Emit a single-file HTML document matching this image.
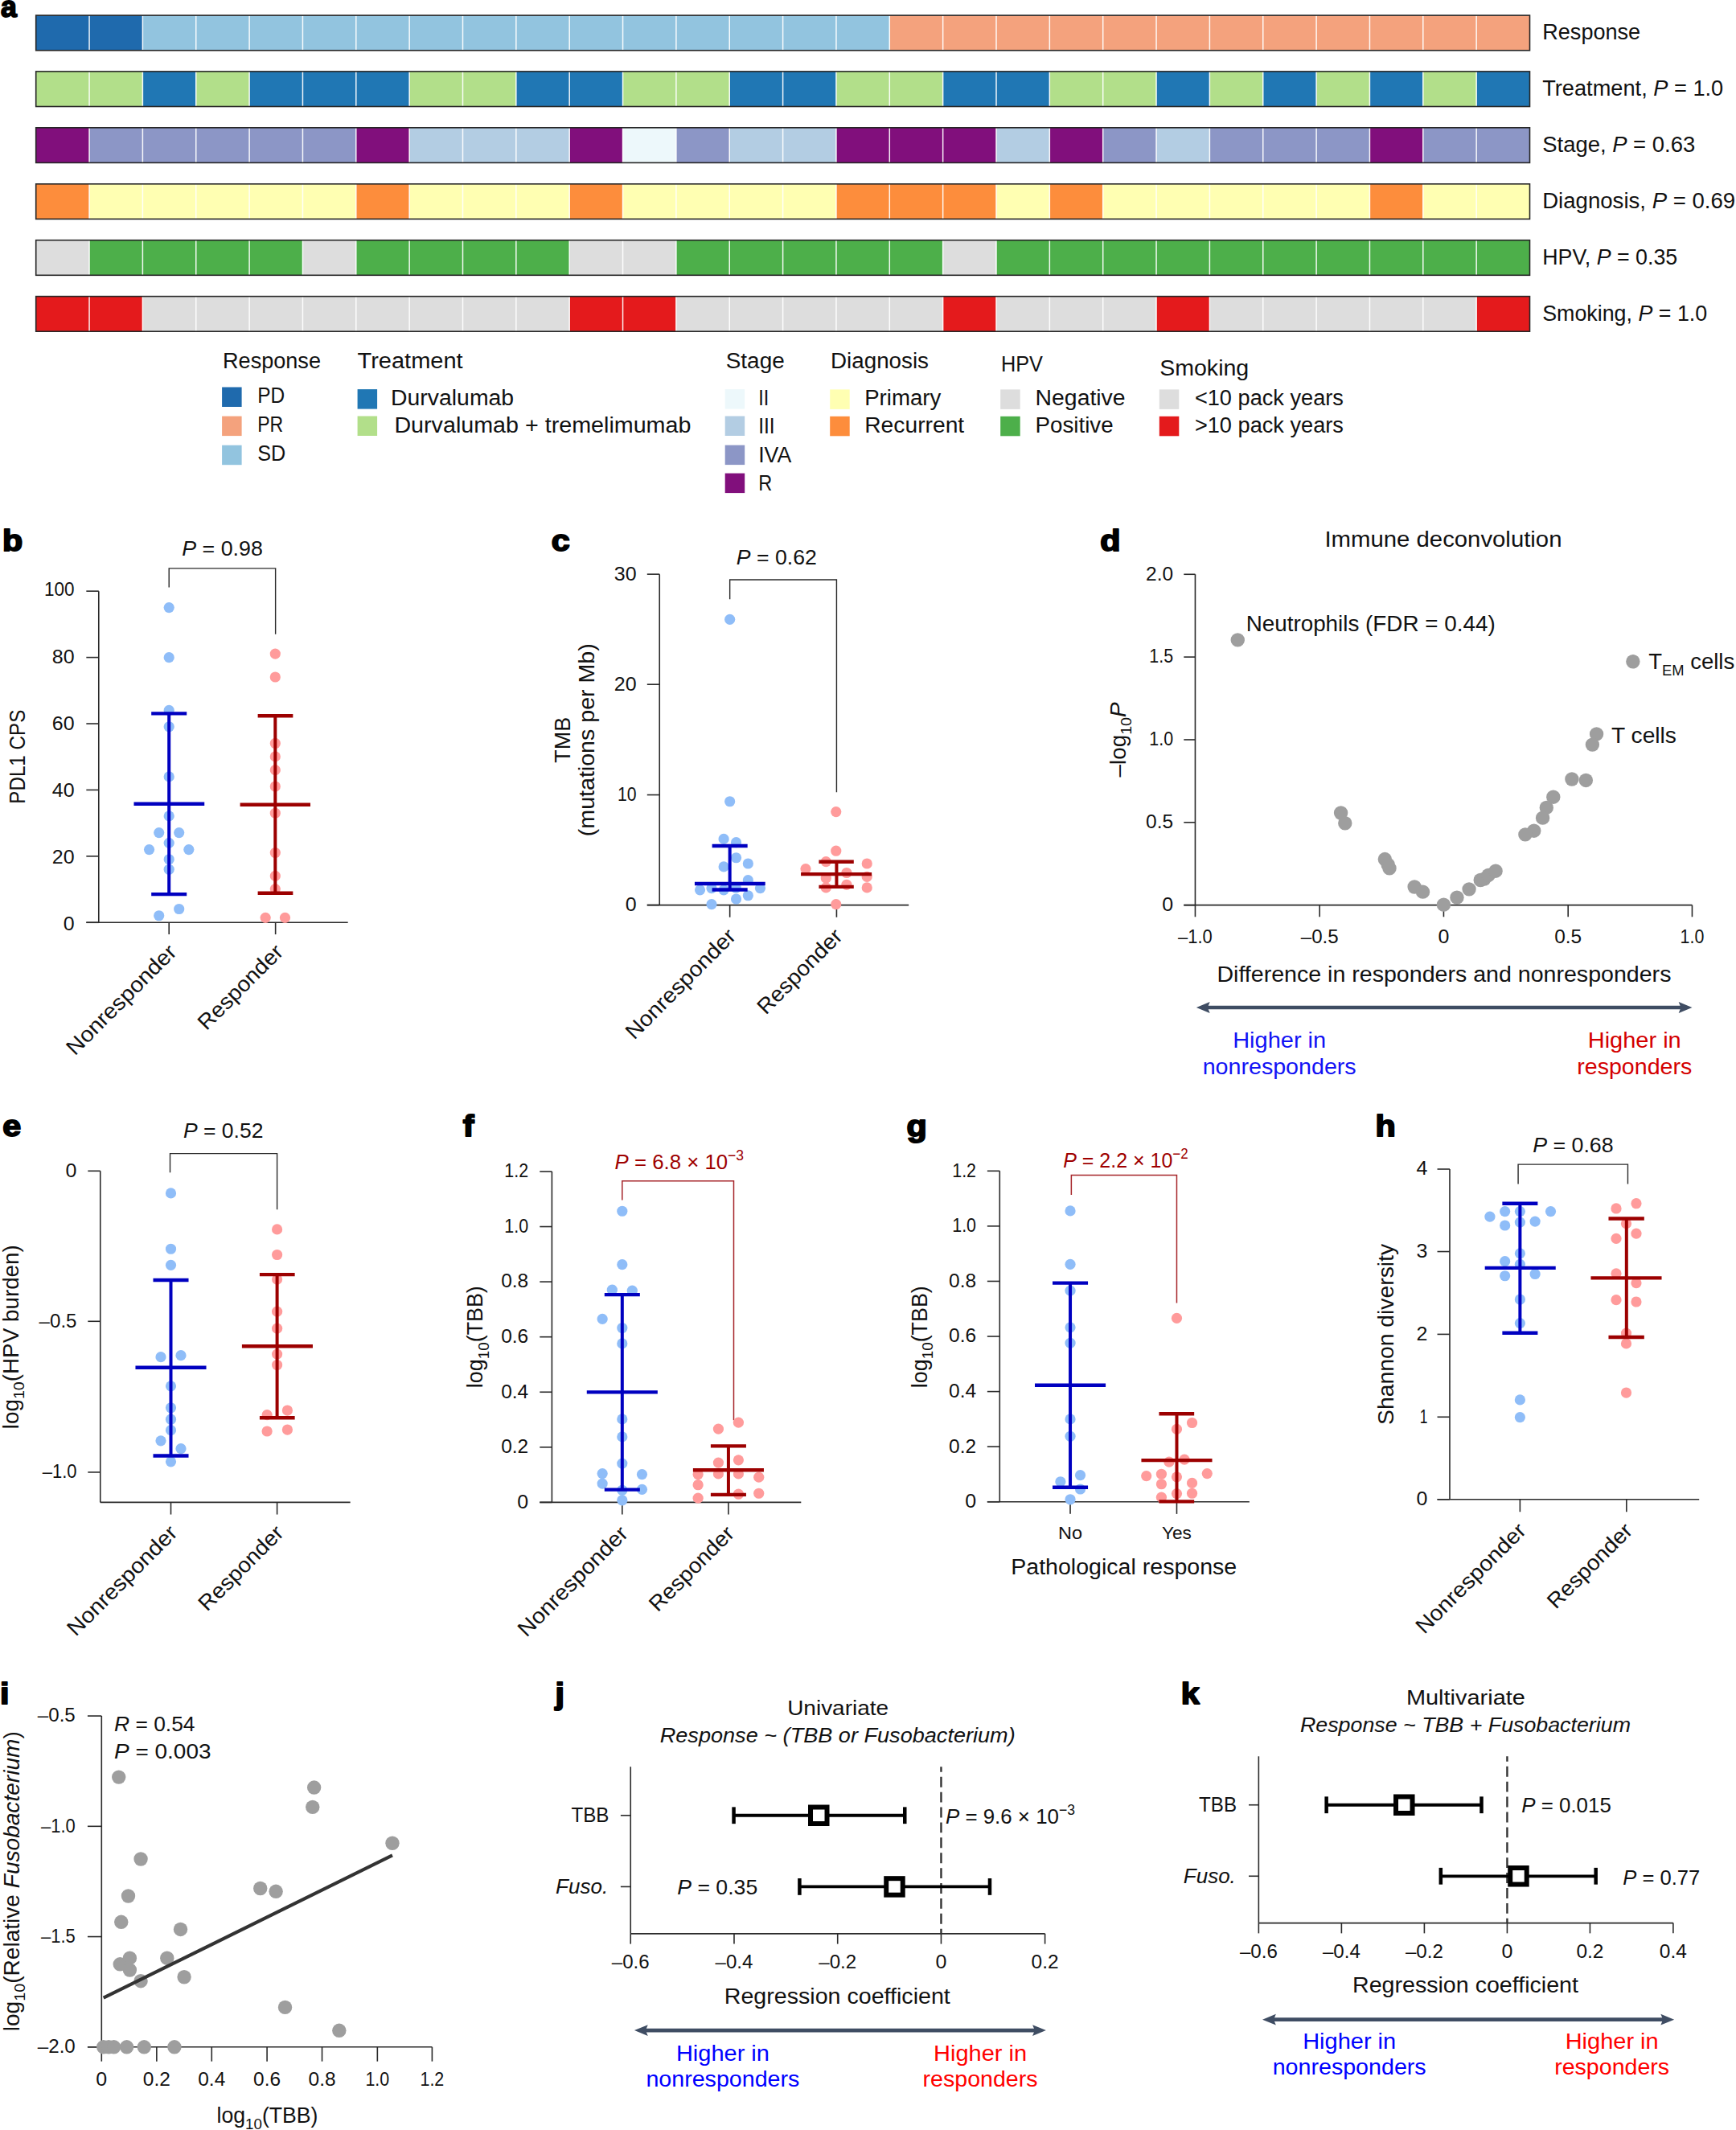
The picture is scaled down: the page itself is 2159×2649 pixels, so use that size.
<!DOCTYPE html>
<html lang="en">
<head>
<meta charset="utf-8">
<title>Figure</title>
<style>
html,body{margin:0;padding:0;background:#fff;}
body{width:2159px;height:2649px;overflow:hidden;font-family:"Liberation Sans", Arial, sans-serif;}
svg{display:block;}
svg text{white-space:pre;}
</style>
</head>
<body>
<svg width="2159" height="2649" viewBox="0 0 2159 2649" font-family='"Liberation Sans", Arial, sans-serif'>
<rect x="0" y="0" width="2159" height="2649" fill="#ffffff"/>
<g transform="translate(0.2 0.2)">
<g id="panel-a">
<text transform="translate(0.70 21.20) scale(0.95 1)" x="0" y="0" font-size="37.5" font-weight="bold" fill="#000" stroke="#000" stroke-width="1.9" stroke-linejoin="round">a</text>
<rect x="44.50" y="18.90" width="132.70" height="43.60" fill="#1f6aad"/>
<rect x="177.20" y="18.90" width="928.90" height="43.60" fill="#92c4df"/>
<rect x="1106.10" y="18.90" width="796.20" height="43.60" fill="#f4a27d"/>
<line x1="110.85" y1="18.90" x2="110.85" y2="62.50" stroke="#ffffff" stroke-width="1.5" stroke-opacity="0.92"/>
<line x1="177.20" y1="18.90" x2="177.20" y2="62.50" stroke="#ffffff" stroke-width="1.5" stroke-opacity="0.92"/>
<line x1="243.55" y1="18.90" x2="243.55" y2="62.50" stroke="#ffffff" stroke-width="1.5" stroke-opacity="0.92"/>
<line x1="309.90" y1="18.90" x2="309.90" y2="62.50" stroke="#ffffff" stroke-width="1.5" stroke-opacity="0.92"/>
<line x1="376.25" y1="18.90" x2="376.25" y2="62.50" stroke="#ffffff" stroke-width="1.5" stroke-opacity="0.92"/>
<line x1="442.60" y1="18.90" x2="442.60" y2="62.50" stroke="#ffffff" stroke-width="1.5" stroke-opacity="0.92"/>
<line x1="508.95" y1="18.90" x2="508.95" y2="62.50" stroke="#ffffff" stroke-width="1.5" stroke-opacity="0.92"/>
<line x1="575.30" y1="18.90" x2="575.30" y2="62.50" stroke="#ffffff" stroke-width="1.5" stroke-opacity="0.92"/>
<line x1="641.65" y1="18.90" x2="641.65" y2="62.50" stroke="#ffffff" stroke-width="1.5" stroke-opacity="0.92"/>
<line x1="708.00" y1="18.90" x2="708.00" y2="62.50" stroke="#ffffff" stroke-width="1.5" stroke-opacity="0.92"/>
<line x1="774.35" y1="18.90" x2="774.35" y2="62.50" stroke="#ffffff" stroke-width="1.5" stroke-opacity="0.92"/>
<line x1="840.70" y1="18.90" x2="840.70" y2="62.50" stroke="#ffffff" stroke-width="1.5" stroke-opacity="0.92"/>
<line x1="907.05" y1="18.90" x2="907.05" y2="62.50" stroke="#ffffff" stroke-width="1.5" stroke-opacity="0.92"/>
<line x1="973.40" y1="18.90" x2="973.40" y2="62.50" stroke="#ffffff" stroke-width="1.5" stroke-opacity="0.92"/>
<line x1="1039.75" y1="18.90" x2="1039.75" y2="62.50" stroke="#ffffff" stroke-width="1.5" stroke-opacity="0.92"/>
<line x1="1106.10" y1="18.90" x2="1106.10" y2="62.50" stroke="#ffffff" stroke-width="1.5" stroke-opacity="0.92"/>
<line x1="1172.45" y1="18.90" x2="1172.45" y2="62.50" stroke="#ffffff" stroke-width="1.5" stroke-opacity="0.92"/>
<line x1="1238.80" y1="18.90" x2="1238.80" y2="62.50" stroke="#ffffff" stroke-width="1.5" stroke-opacity="0.92"/>
<line x1="1305.15" y1="18.90" x2="1305.15" y2="62.50" stroke="#ffffff" stroke-width="1.5" stroke-opacity="0.92"/>
<line x1="1371.50" y1="18.90" x2="1371.50" y2="62.50" stroke="#ffffff" stroke-width="1.5" stroke-opacity="0.92"/>
<line x1="1437.85" y1="18.90" x2="1437.85" y2="62.50" stroke="#ffffff" stroke-width="1.5" stroke-opacity="0.92"/>
<line x1="1504.20" y1="18.90" x2="1504.20" y2="62.50" stroke="#ffffff" stroke-width="1.5" stroke-opacity="0.92"/>
<line x1="1570.55" y1="18.90" x2="1570.55" y2="62.50" stroke="#ffffff" stroke-width="1.5" stroke-opacity="0.92"/>
<line x1="1636.90" y1="18.90" x2="1636.90" y2="62.50" stroke="#ffffff" stroke-width="1.5" stroke-opacity="0.92"/>
<line x1="1703.25" y1="18.90" x2="1703.25" y2="62.50" stroke="#ffffff" stroke-width="1.5" stroke-opacity="0.92"/>
<line x1="1769.60" y1="18.90" x2="1769.60" y2="62.50" stroke="#ffffff" stroke-width="1.5" stroke-opacity="0.92"/>
<line x1="1835.95" y1="18.90" x2="1835.95" y2="62.50" stroke="#ffffff" stroke-width="1.5" stroke-opacity="0.92"/>
<rect x="44.50" y="18.90" width="1857.80" height="43.60" fill="none" stroke="#262626" stroke-width="1.6"/>
<text x="1918.00" y="49.30" font-size="27" text-anchor="start" fill="#111" textLength="122.0" lengthAdjust="spacingAndGlyphs">Response</text>
<rect x="44.50" y="88.70" width="132.70" height="43.60" fill="#b2df8a"/>
<rect x="177.20" y="88.70" width="66.35" height="43.60" fill="#2077b4"/>
<rect x="243.55" y="88.70" width="66.35" height="43.60" fill="#b2df8a"/>
<rect x="309.90" y="88.70" width="199.05" height="43.60" fill="#2077b4"/>
<rect x="508.95" y="88.70" width="132.70" height="43.60" fill="#b2df8a"/>
<rect x="641.65" y="88.70" width="132.70" height="43.60" fill="#2077b4"/>
<rect x="774.35" y="88.70" width="132.70" height="43.60" fill="#b2df8a"/>
<rect x="907.05" y="88.70" width="132.70" height="43.60" fill="#2077b4"/>
<rect x="1039.75" y="88.70" width="132.70" height="43.60" fill="#b2df8a"/>
<rect x="1172.45" y="88.70" width="132.70" height="43.60" fill="#2077b4"/>
<rect x="1305.15" y="88.70" width="132.70" height="43.60" fill="#b2df8a"/>
<rect x="1437.85" y="88.70" width="66.35" height="43.60" fill="#2077b4"/>
<rect x="1504.20" y="88.70" width="66.35" height="43.60" fill="#b2df8a"/>
<rect x="1570.55" y="88.70" width="66.35" height="43.60" fill="#2077b4"/>
<rect x="1636.90" y="88.70" width="66.35" height="43.60" fill="#b2df8a"/>
<rect x="1703.25" y="88.70" width="66.35" height="43.60" fill="#2077b4"/>
<rect x="1769.60" y="88.70" width="66.35" height="43.60" fill="#b2df8a"/>
<rect x="1835.95" y="88.70" width="66.35" height="43.60" fill="#2077b4"/>
<line x1="110.85" y1="88.70" x2="110.85" y2="132.30" stroke="#ffffff" stroke-width="1.5" stroke-opacity="0.92"/>
<line x1="177.20" y1="88.70" x2="177.20" y2="132.30" stroke="#ffffff" stroke-width="1.5" stroke-opacity="0.92"/>
<line x1="243.55" y1="88.70" x2="243.55" y2="132.30" stroke="#ffffff" stroke-width="1.5" stroke-opacity="0.92"/>
<line x1="309.90" y1="88.70" x2="309.90" y2="132.30" stroke="#ffffff" stroke-width="1.5" stroke-opacity="0.92"/>
<line x1="376.25" y1="88.70" x2="376.25" y2="132.30" stroke="#ffffff" stroke-width="1.5" stroke-opacity="0.92"/>
<line x1="442.60" y1="88.70" x2="442.60" y2="132.30" stroke="#ffffff" stroke-width="1.5" stroke-opacity="0.92"/>
<line x1="508.95" y1="88.70" x2="508.95" y2="132.30" stroke="#ffffff" stroke-width="1.5" stroke-opacity="0.92"/>
<line x1="575.30" y1="88.70" x2="575.30" y2="132.30" stroke="#ffffff" stroke-width="1.5" stroke-opacity="0.92"/>
<line x1="641.65" y1="88.70" x2="641.65" y2="132.30" stroke="#ffffff" stroke-width="1.5" stroke-opacity="0.92"/>
<line x1="708.00" y1="88.70" x2="708.00" y2="132.30" stroke="#ffffff" stroke-width="1.5" stroke-opacity="0.92"/>
<line x1="774.35" y1="88.70" x2="774.35" y2="132.30" stroke="#ffffff" stroke-width="1.5" stroke-opacity="0.92"/>
<line x1="840.70" y1="88.70" x2="840.70" y2="132.30" stroke="#ffffff" stroke-width="1.5" stroke-opacity="0.92"/>
<line x1="907.05" y1="88.70" x2="907.05" y2="132.30" stroke="#ffffff" stroke-width="1.5" stroke-opacity="0.92"/>
<line x1="973.40" y1="88.70" x2="973.40" y2="132.30" stroke="#ffffff" stroke-width="1.5" stroke-opacity="0.92"/>
<line x1="1039.75" y1="88.70" x2="1039.75" y2="132.30" stroke="#ffffff" stroke-width="1.5" stroke-opacity="0.92"/>
<line x1="1106.10" y1="88.70" x2="1106.10" y2="132.30" stroke="#ffffff" stroke-width="1.5" stroke-opacity="0.92"/>
<line x1="1172.45" y1="88.70" x2="1172.45" y2="132.30" stroke="#ffffff" stroke-width="1.5" stroke-opacity="0.92"/>
<line x1="1238.80" y1="88.70" x2="1238.80" y2="132.30" stroke="#ffffff" stroke-width="1.5" stroke-opacity="0.92"/>
<line x1="1305.15" y1="88.70" x2="1305.15" y2="132.30" stroke="#ffffff" stroke-width="1.5" stroke-opacity="0.92"/>
<line x1="1371.50" y1="88.70" x2="1371.50" y2="132.30" stroke="#ffffff" stroke-width="1.5" stroke-opacity="0.92"/>
<line x1="1437.85" y1="88.70" x2="1437.85" y2="132.30" stroke="#ffffff" stroke-width="1.5" stroke-opacity="0.92"/>
<line x1="1504.20" y1="88.70" x2="1504.20" y2="132.30" stroke="#ffffff" stroke-width="1.5" stroke-opacity="0.92"/>
<line x1="1570.55" y1="88.70" x2="1570.55" y2="132.30" stroke="#ffffff" stroke-width="1.5" stroke-opacity="0.92"/>
<line x1="1636.90" y1="88.70" x2="1636.90" y2="132.30" stroke="#ffffff" stroke-width="1.5" stroke-opacity="0.92"/>
<line x1="1703.25" y1="88.70" x2="1703.25" y2="132.30" stroke="#ffffff" stroke-width="1.5" stroke-opacity="0.92"/>
<line x1="1769.60" y1="88.70" x2="1769.60" y2="132.30" stroke="#ffffff" stroke-width="1.5" stroke-opacity="0.92"/>
<line x1="1835.95" y1="88.70" x2="1835.95" y2="132.30" stroke="#ffffff" stroke-width="1.5" stroke-opacity="0.92"/>
<rect x="44.50" y="88.70" width="1857.80" height="43.60" fill="none" stroke="#262626" stroke-width="1.6"/>
<text x="1918.00" y="119.10" font-size="27" text-anchor="start" fill="#111" textLength="225.0" lengthAdjust="spacingAndGlyphs">Treatment, <tspan font-style="italic">P</tspan> = 1.0</text>
<rect x="44.50" y="158.60" width="66.35" height="43.60" fill="#810f7c"/>
<rect x="110.85" y="158.60" width="331.75" height="43.60" fill="#8c96c6"/>
<rect x="442.60" y="158.60" width="66.35" height="43.60" fill="#810f7c"/>
<rect x="508.95" y="158.60" width="199.05" height="43.60" fill="#b3cde3"/>
<rect x="708.00" y="158.60" width="66.35" height="43.60" fill="#810f7c"/>
<rect x="774.35" y="158.60" width="66.35" height="43.60" fill="#edf8fb"/>
<rect x="840.70" y="158.60" width="66.35" height="43.60" fill="#8c96c6"/>
<rect x="907.05" y="158.60" width="132.70" height="43.60" fill="#b3cde3"/>
<rect x="1039.75" y="158.60" width="199.05" height="43.60" fill="#810f7c"/>
<rect x="1238.80" y="158.60" width="66.35" height="43.60" fill="#b3cde3"/>
<rect x="1305.15" y="158.60" width="66.35" height="43.60" fill="#810f7c"/>
<rect x="1371.50" y="158.60" width="66.35" height="43.60" fill="#8c96c6"/>
<rect x="1437.85" y="158.60" width="66.35" height="43.60" fill="#b3cde3"/>
<rect x="1504.20" y="158.60" width="199.05" height="43.60" fill="#8c96c6"/>
<rect x="1703.25" y="158.60" width="66.35" height="43.60" fill="#810f7c"/>
<rect x="1769.60" y="158.60" width="132.70" height="43.60" fill="#8c96c6"/>
<line x1="110.85" y1="158.60" x2="110.85" y2="202.20" stroke="#ffffff" stroke-width="1.5" stroke-opacity="0.92"/>
<line x1="177.20" y1="158.60" x2="177.20" y2="202.20" stroke="#ffffff" stroke-width="1.5" stroke-opacity="0.92"/>
<line x1="243.55" y1="158.60" x2="243.55" y2="202.20" stroke="#ffffff" stroke-width="1.5" stroke-opacity="0.92"/>
<line x1="309.90" y1="158.60" x2="309.90" y2="202.20" stroke="#ffffff" stroke-width="1.5" stroke-opacity="0.92"/>
<line x1="376.25" y1="158.60" x2="376.25" y2="202.20" stroke="#ffffff" stroke-width="1.5" stroke-opacity="0.92"/>
<line x1="442.60" y1="158.60" x2="442.60" y2="202.20" stroke="#ffffff" stroke-width="1.5" stroke-opacity="0.92"/>
<line x1="508.95" y1="158.60" x2="508.95" y2="202.20" stroke="#ffffff" stroke-width="1.5" stroke-opacity="0.92"/>
<line x1="575.30" y1="158.60" x2="575.30" y2="202.20" stroke="#ffffff" stroke-width="1.5" stroke-opacity="0.92"/>
<line x1="641.65" y1="158.60" x2="641.65" y2="202.20" stroke="#ffffff" stroke-width="1.5" stroke-opacity="0.92"/>
<line x1="708.00" y1="158.60" x2="708.00" y2="202.20" stroke="#ffffff" stroke-width="1.5" stroke-opacity="0.92"/>
<line x1="774.35" y1="158.60" x2="774.35" y2="202.20" stroke="#ffffff" stroke-width="1.5" stroke-opacity="0.92"/>
<line x1="840.70" y1="158.60" x2="840.70" y2="202.20" stroke="#ffffff" stroke-width="1.5" stroke-opacity="0.92"/>
<line x1="907.05" y1="158.60" x2="907.05" y2="202.20" stroke="#ffffff" stroke-width="1.5" stroke-opacity="0.92"/>
<line x1="973.40" y1="158.60" x2="973.40" y2="202.20" stroke="#ffffff" stroke-width="1.5" stroke-opacity="0.92"/>
<line x1="1039.75" y1="158.60" x2="1039.75" y2="202.20" stroke="#ffffff" stroke-width="1.5" stroke-opacity="0.92"/>
<line x1="1106.10" y1="158.60" x2="1106.10" y2="202.20" stroke="#ffffff" stroke-width="1.5" stroke-opacity="0.92"/>
<line x1="1172.45" y1="158.60" x2="1172.45" y2="202.20" stroke="#ffffff" stroke-width="1.5" stroke-opacity="0.92"/>
<line x1="1238.80" y1="158.60" x2="1238.80" y2="202.20" stroke="#ffffff" stroke-width="1.5" stroke-opacity="0.92"/>
<line x1="1305.15" y1="158.60" x2="1305.15" y2="202.20" stroke="#ffffff" stroke-width="1.5" stroke-opacity="0.92"/>
<line x1="1371.50" y1="158.60" x2="1371.50" y2="202.20" stroke="#ffffff" stroke-width="1.5" stroke-opacity="0.92"/>
<line x1="1437.85" y1="158.60" x2="1437.85" y2="202.20" stroke="#ffffff" stroke-width="1.5" stroke-opacity="0.92"/>
<line x1="1504.20" y1="158.60" x2="1504.20" y2="202.20" stroke="#ffffff" stroke-width="1.5" stroke-opacity="0.92"/>
<line x1="1570.55" y1="158.60" x2="1570.55" y2="202.20" stroke="#ffffff" stroke-width="1.5" stroke-opacity="0.92"/>
<line x1="1636.90" y1="158.60" x2="1636.90" y2="202.20" stroke="#ffffff" stroke-width="1.5" stroke-opacity="0.92"/>
<line x1="1703.25" y1="158.60" x2="1703.25" y2="202.20" stroke="#ffffff" stroke-width="1.5" stroke-opacity="0.92"/>
<line x1="1769.60" y1="158.60" x2="1769.60" y2="202.20" stroke="#ffffff" stroke-width="1.5" stroke-opacity="0.92"/>
<line x1="1835.95" y1="158.60" x2="1835.95" y2="202.20" stroke="#ffffff" stroke-width="1.5" stroke-opacity="0.92"/>
<rect x="44.50" y="158.60" width="1857.80" height="43.60" fill="none" stroke="#262626" stroke-width="1.6"/>
<text x="1918.00" y="189.00" font-size="27" text-anchor="start" fill="#111" textLength="190.0" lengthAdjust="spacingAndGlyphs">Stage, <tspan font-style="italic">P</tspan> = 0.63</text>
<rect x="44.50" y="228.60" width="66.35" height="43.60" fill="#fd8d3c"/>
<rect x="110.85" y="228.60" width="331.75" height="43.60" fill="#ffffb2"/>
<rect x="442.60" y="228.60" width="66.35" height="43.60" fill="#fd8d3c"/>
<rect x="508.95" y="228.60" width="199.05" height="43.60" fill="#ffffb2"/>
<rect x="708.00" y="228.60" width="66.35" height="43.60" fill="#fd8d3c"/>
<rect x="774.35" y="228.60" width="265.40" height="43.60" fill="#ffffb2"/>
<rect x="1039.75" y="228.60" width="199.05" height="43.60" fill="#fd8d3c"/>
<rect x="1238.80" y="228.60" width="66.35" height="43.60" fill="#ffffb2"/>
<rect x="1305.15" y="228.60" width="66.35" height="43.60" fill="#fd8d3c"/>
<rect x="1371.50" y="228.60" width="331.75" height="43.60" fill="#ffffb2"/>
<rect x="1703.25" y="228.60" width="66.35" height="43.60" fill="#fd8d3c"/>
<rect x="1769.60" y="228.60" width="132.70" height="43.60" fill="#ffffb2"/>
<line x1="110.85" y1="228.60" x2="110.85" y2="272.20" stroke="#ffffff" stroke-width="1.5" stroke-opacity="0.92"/>
<line x1="177.20" y1="228.60" x2="177.20" y2="272.20" stroke="#ffffff" stroke-width="1.5" stroke-opacity="0.92"/>
<line x1="243.55" y1="228.60" x2="243.55" y2="272.20" stroke="#ffffff" stroke-width="1.5" stroke-opacity="0.92"/>
<line x1="309.90" y1="228.60" x2="309.90" y2="272.20" stroke="#ffffff" stroke-width="1.5" stroke-opacity="0.92"/>
<line x1="376.25" y1="228.60" x2="376.25" y2="272.20" stroke="#ffffff" stroke-width="1.5" stroke-opacity="0.92"/>
<line x1="442.60" y1="228.60" x2="442.60" y2="272.20" stroke="#ffffff" stroke-width="1.5" stroke-opacity="0.92"/>
<line x1="508.95" y1="228.60" x2="508.95" y2="272.20" stroke="#ffffff" stroke-width="1.5" stroke-opacity="0.92"/>
<line x1="575.30" y1="228.60" x2="575.30" y2="272.20" stroke="#ffffff" stroke-width="1.5" stroke-opacity="0.92"/>
<line x1="641.65" y1="228.60" x2="641.65" y2="272.20" stroke="#ffffff" stroke-width="1.5" stroke-opacity="0.92"/>
<line x1="708.00" y1="228.60" x2="708.00" y2="272.20" stroke="#ffffff" stroke-width="1.5" stroke-opacity="0.92"/>
<line x1="774.35" y1="228.60" x2="774.35" y2="272.20" stroke="#ffffff" stroke-width="1.5" stroke-opacity="0.92"/>
<line x1="840.70" y1="228.60" x2="840.70" y2="272.20" stroke="#ffffff" stroke-width="1.5" stroke-opacity="0.92"/>
<line x1="907.05" y1="228.60" x2="907.05" y2="272.20" stroke="#ffffff" stroke-width="1.5" stroke-opacity="0.92"/>
<line x1="973.40" y1="228.60" x2="973.40" y2="272.20" stroke="#ffffff" stroke-width="1.5" stroke-opacity="0.92"/>
<line x1="1039.75" y1="228.60" x2="1039.75" y2="272.20" stroke="#ffffff" stroke-width="1.5" stroke-opacity="0.92"/>
<line x1="1106.10" y1="228.60" x2="1106.10" y2="272.20" stroke="#ffffff" stroke-width="1.5" stroke-opacity="0.92"/>
<line x1="1172.45" y1="228.60" x2="1172.45" y2="272.20" stroke="#ffffff" stroke-width="1.5" stroke-opacity="0.92"/>
<line x1="1238.80" y1="228.60" x2="1238.80" y2="272.20" stroke="#ffffff" stroke-width="1.5" stroke-opacity="0.92"/>
<line x1="1305.15" y1="228.60" x2="1305.15" y2="272.20" stroke="#ffffff" stroke-width="1.5" stroke-opacity="0.92"/>
<line x1="1371.50" y1="228.60" x2="1371.50" y2="272.20" stroke="#ffffff" stroke-width="1.5" stroke-opacity="0.92"/>
<line x1="1437.85" y1="228.60" x2="1437.85" y2="272.20" stroke="#ffffff" stroke-width="1.5" stroke-opacity="0.92"/>
<line x1="1504.20" y1="228.60" x2="1504.20" y2="272.20" stroke="#ffffff" stroke-width="1.5" stroke-opacity="0.92"/>
<line x1="1570.55" y1="228.60" x2="1570.55" y2="272.20" stroke="#ffffff" stroke-width="1.5" stroke-opacity="0.92"/>
<line x1="1636.90" y1="228.60" x2="1636.90" y2="272.20" stroke="#ffffff" stroke-width="1.5" stroke-opacity="0.92"/>
<line x1="1703.25" y1="228.60" x2="1703.25" y2="272.20" stroke="#ffffff" stroke-width="1.5" stroke-opacity="0.92"/>
<line x1="1769.60" y1="228.60" x2="1769.60" y2="272.20" stroke="#ffffff" stroke-width="1.5" stroke-opacity="0.92"/>
<line x1="1835.95" y1="228.60" x2="1835.95" y2="272.20" stroke="#ffffff" stroke-width="1.5" stroke-opacity="0.92"/>
<rect x="44.50" y="228.60" width="1857.80" height="43.60" fill="none" stroke="#262626" stroke-width="1.6"/>
<text x="1918.00" y="259.00" font-size="27" text-anchor="start" fill="#111" textLength="240.0" lengthAdjust="spacingAndGlyphs">Diagnosis, <tspan font-style="italic">P</tspan> = 0.69</text>
<rect x="44.50" y="298.50" width="66.35" height="43.60" fill="#dddddd"/>
<rect x="110.85" y="298.50" width="265.40" height="43.60" fill="#4daf4a"/>
<rect x="376.25" y="298.50" width="66.35" height="43.60" fill="#dddddd"/>
<rect x="442.60" y="298.50" width="265.40" height="43.60" fill="#4daf4a"/>
<rect x="708.00" y="298.50" width="132.70" height="43.60" fill="#dddddd"/>
<rect x="840.70" y="298.50" width="331.75" height="43.60" fill="#4daf4a"/>
<rect x="1172.45" y="298.50" width="66.35" height="43.60" fill="#dddddd"/>
<rect x="1238.80" y="298.50" width="663.50" height="43.60" fill="#4daf4a"/>
<line x1="110.85" y1="298.50" x2="110.85" y2="342.10" stroke="#ffffff" stroke-width="1.5" stroke-opacity="0.92"/>
<line x1="177.20" y1="298.50" x2="177.20" y2="342.10" stroke="#ffffff" stroke-width="1.5" stroke-opacity="0.92"/>
<line x1="243.55" y1="298.50" x2="243.55" y2="342.10" stroke="#ffffff" stroke-width="1.5" stroke-opacity="0.92"/>
<line x1="309.90" y1="298.50" x2="309.90" y2="342.10" stroke="#ffffff" stroke-width="1.5" stroke-opacity="0.92"/>
<line x1="376.25" y1="298.50" x2="376.25" y2="342.10" stroke="#ffffff" stroke-width="1.5" stroke-opacity="0.92"/>
<line x1="442.60" y1="298.50" x2="442.60" y2="342.10" stroke="#ffffff" stroke-width="1.5" stroke-opacity="0.92"/>
<line x1="508.95" y1="298.50" x2="508.95" y2="342.10" stroke="#ffffff" stroke-width="1.5" stroke-opacity="0.92"/>
<line x1="575.30" y1="298.50" x2="575.30" y2="342.10" stroke="#ffffff" stroke-width="1.5" stroke-opacity="0.92"/>
<line x1="641.65" y1="298.50" x2="641.65" y2="342.10" stroke="#ffffff" stroke-width="1.5" stroke-opacity="0.92"/>
<line x1="708.00" y1="298.50" x2="708.00" y2="342.10" stroke="#ffffff" stroke-width="1.5" stroke-opacity="0.92"/>
<line x1="774.35" y1="298.50" x2="774.35" y2="342.10" stroke="#ffffff" stroke-width="1.5" stroke-opacity="0.92"/>
<line x1="840.70" y1="298.50" x2="840.70" y2="342.10" stroke="#ffffff" stroke-width="1.5" stroke-opacity="0.92"/>
<line x1="907.05" y1="298.50" x2="907.05" y2="342.10" stroke="#ffffff" stroke-width="1.5" stroke-opacity="0.92"/>
<line x1="973.40" y1="298.50" x2="973.40" y2="342.10" stroke="#ffffff" stroke-width="1.5" stroke-opacity="0.92"/>
<line x1="1039.75" y1="298.50" x2="1039.75" y2="342.10" stroke="#ffffff" stroke-width="1.5" stroke-opacity="0.92"/>
<line x1="1106.10" y1="298.50" x2="1106.10" y2="342.10" stroke="#ffffff" stroke-width="1.5" stroke-opacity="0.92"/>
<line x1="1172.45" y1="298.50" x2="1172.45" y2="342.10" stroke="#ffffff" stroke-width="1.5" stroke-opacity="0.92"/>
<line x1="1238.80" y1="298.50" x2="1238.80" y2="342.10" stroke="#ffffff" stroke-width="1.5" stroke-opacity="0.92"/>
<line x1="1305.15" y1="298.50" x2="1305.15" y2="342.10" stroke="#ffffff" stroke-width="1.5" stroke-opacity="0.92"/>
<line x1="1371.50" y1="298.50" x2="1371.50" y2="342.10" stroke="#ffffff" stroke-width="1.5" stroke-opacity="0.92"/>
<line x1="1437.85" y1="298.50" x2="1437.85" y2="342.10" stroke="#ffffff" stroke-width="1.5" stroke-opacity="0.92"/>
<line x1="1504.20" y1="298.50" x2="1504.20" y2="342.10" stroke="#ffffff" stroke-width="1.5" stroke-opacity="0.92"/>
<line x1="1570.55" y1="298.50" x2="1570.55" y2="342.10" stroke="#ffffff" stroke-width="1.5" stroke-opacity="0.92"/>
<line x1="1636.90" y1="298.50" x2="1636.90" y2="342.10" stroke="#ffffff" stroke-width="1.5" stroke-opacity="0.92"/>
<line x1="1703.25" y1="298.50" x2="1703.25" y2="342.10" stroke="#ffffff" stroke-width="1.5" stroke-opacity="0.92"/>
<line x1="1769.60" y1="298.50" x2="1769.60" y2="342.10" stroke="#ffffff" stroke-width="1.5" stroke-opacity="0.92"/>
<line x1="1835.95" y1="298.50" x2="1835.95" y2="342.10" stroke="#ffffff" stroke-width="1.5" stroke-opacity="0.92"/>
<rect x="44.50" y="298.50" width="1857.80" height="43.60" fill="none" stroke="#262626" stroke-width="1.6"/>
<text x="1918.00" y="328.90" font-size="27" text-anchor="start" fill="#111" textLength="168.0" lengthAdjust="spacingAndGlyphs">HPV, <tspan font-style="italic">P</tspan> = 0.35</text>
<rect x="44.50" y="368.40" width="132.70" height="43.60" fill="#e41a1c"/>
<rect x="177.20" y="368.40" width="530.80" height="43.60" fill="#dddddd"/>
<rect x="708.00" y="368.40" width="132.70" height="43.60" fill="#e41a1c"/>
<rect x="840.70" y="368.40" width="331.75" height="43.60" fill="#dddddd"/>
<rect x="1172.45" y="368.40" width="66.35" height="43.60" fill="#e41a1c"/>
<rect x="1238.80" y="368.40" width="199.05" height="43.60" fill="#dddddd"/>
<rect x="1437.85" y="368.40" width="66.35" height="43.60" fill="#e41a1c"/>
<rect x="1504.20" y="368.40" width="331.75" height="43.60" fill="#dddddd"/>
<rect x="1835.95" y="368.40" width="66.35" height="43.60" fill="#e41a1c"/>
<line x1="110.85" y1="368.40" x2="110.85" y2="412.00" stroke="#ffffff" stroke-width="1.5" stroke-opacity="0.92"/>
<line x1="177.20" y1="368.40" x2="177.20" y2="412.00" stroke="#ffffff" stroke-width="1.5" stroke-opacity="0.92"/>
<line x1="243.55" y1="368.40" x2="243.55" y2="412.00" stroke="#ffffff" stroke-width="1.5" stroke-opacity="0.92"/>
<line x1="309.90" y1="368.40" x2="309.90" y2="412.00" stroke="#ffffff" stroke-width="1.5" stroke-opacity="0.92"/>
<line x1="376.25" y1="368.40" x2="376.25" y2="412.00" stroke="#ffffff" stroke-width="1.5" stroke-opacity="0.92"/>
<line x1="442.60" y1="368.40" x2="442.60" y2="412.00" stroke="#ffffff" stroke-width="1.5" stroke-opacity="0.92"/>
<line x1="508.95" y1="368.40" x2="508.95" y2="412.00" stroke="#ffffff" stroke-width="1.5" stroke-opacity="0.92"/>
<line x1="575.30" y1="368.40" x2="575.30" y2="412.00" stroke="#ffffff" stroke-width="1.5" stroke-opacity="0.92"/>
<line x1="641.65" y1="368.40" x2="641.65" y2="412.00" stroke="#ffffff" stroke-width="1.5" stroke-opacity="0.92"/>
<line x1="708.00" y1="368.40" x2="708.00" y2="412.00" stroke="#ffffff" stroke-width="1.5" stroke-opacity="0.92"/>
<line x1="774.35" y1="368.40" x2="774.35" y2="412.00" stroke="#ffffff" stroke-width="1.5" stroke-opacity="0.92"/>
<line x1="840.70" y1="368.40" x2="840.70" y2="412.00" stroke="#ffffff" stroke-width="1.5" stroke-opacity="0.92"/>
<line x1="907.05" y1="368.40" x2="907.05" y2="412.00" stroke="#ffffff" stroke-width="1.5" stroke-opacity="0.92"/>
<line x1="973.40" y1="368.40" x2="973.40" y2="412.00" stroke="#ffffff" stroke-width="1.5" stroke-opacity="0.92"/>
<line x1="1039.75" y1="368.40" x2="1039.75" y2="412.00" stroke="#ffffff" stroke-width="1.5" stroke-opacity="0.92"/>
<line x1="1106.10" y1="368.40" x2="1106.10" y2="412.00" stroke="#ffffff" stroke-width="1.5" stroke-opacity="0.92"/>
<line x1="1172.45" y1="368.40" x2="1172.45" y2="412.00" stroke="#ffffff" stroke-width="1.5" stroke-opacity="0.92"/>
<line x1="1238.80" y1="368.40" x2="1238.80" y2="412.00" stroke="#ffffff" stroke-width="1.5" stroke-opacity="0.92"/>
<line x1="1305.15" y1="368.40" x2="1305.15" y2="412.00" stroke="#ffffff" stroke-width="1.5" stroke-opacity="0.92"/>
<line x1="1371.50" y1="368.40" x2="1371.50" y2="412.00" stroke="#ffffff" stroke-width="1.5" stroke-opacity="0.92"/>
<line x1="1437.85" y1="368.40" x2="1437.85" y2="412.00" stroke="#ffffff" stroke-width="1.5" stroke-opacity="0.92"/>
<line x1="1504.20" y1="368.40" x2="1504.20" y2="412.00" stroke="#ffffff" stroke-width="1.5" stroke-opacity="0.92"/>
<line x1="1570.55" y1="368.40" x2="1570.55" y2="412.00" stroke="#ffffff" stroke-width="1.5" stroke-opacity="0.92"/>
<line x1="1636.90" y1="368.40" x2="1636.90" y2="412.00" stroke="#ffffff" stroke-width="1.5" stroke-opacity="0.92"/>
<line x1="1703.25" y1="368.40" x2="1703.25" y2="412.00" stroke="#ffffff" stroke-width="1.5" stroke-opacity="0.92"/>
<line x1="1769.60" y1="368.40" x2="1769.60" y2="412.00" stroke="#ffffff" stroke-width="1.5" stroke-opacity="0.92"/>
<line x1="1835.95" y1="368.40" x2="1835.95" y2="412.00" stroke="#ffffff" stroke-width="1.5" stroke-opacity="0.92"/>
<rect x="44.50" y="368.40" width="1857.80" height="43.60" fill="none" stroke="#262626" stroke-width="1.6"/>
<text x="1918.00" y="398.80" font-size="27" text-anchor="start" fill="#111" textLength="205.0" lengthAdjust="spacingAndGlyphs">Smoking, <tspan font-style="italic">P</tspan> = 1.0</text>
<text x="276.80" y="458.00" font-size="27" text-anchor="start" fill="#111" textLength="122.0" lengthAdjust="spacingAndGlyphs">Response</text>
<rect x="275.90" y="481.30" width="24.50" height="24.50" fill="#1f6aad"/>
<text x="320.00" y="500.90" font-size="27" text-anchor="start" fill="#111" textLength="34.0" lengthAdjust="spacingAndGlyphs">PD</text>
<rect x="275.90" y="517.40" width="24.50" height="24.50" fill="#f4a27d"/>
<text x="320.00" y="537.00" font-size="27" text-anchor="start" fill="#111" textLength="32.0" lengthAdjust="spacingAndGlyphs">PR</text>
<rect x="275.90" y="553.50" width="24.50" height="24.50" fill="#92c4df"/>
<text x="320.00" y="573.10" font-size="27" text-anchor="start" fill="#111" textLength="35.0" lengthAdjust="spacingAndGlyphs">SD</text>
<text x="444.40" y="458.00" font-size="27" text-anchor="start" fill="#111" textLength="131.0" lengthAdjust="spacingAndGlyphs">Treatment</text>
<rect x="444.40" y="483.90" width="24.50" height="24.50" fill="#2077b4"/>
<text x="485.90" y="503.80" font-size="27" text-anchor="start" fill="#111" textLength="153.0" lengthAdjust="spacingAndGlyphs">Durvalumab</text>
<rect x="444.40" y="517.30" width="24.50" height="24.50" fill="#b2df8a"/>
<text x="490.20" y="538.00" font-size="27" text-anchor="start" fill="#111" textLength="369.0" lengthAdjust="spacingAndGlyphs">Durvalumab + tremelimumab</text>
<text x="902.50" y="457.50" font-size="27" text-anchor="start" fill="#111" textLength="73.0" lengthAdjust="spacingAndGlyphs">Stage</text>
<rect x="901.50" y="483.90" width="24.50" height="24.50" fill="#edf8fb"/>
<text x="943.00" y="503.80" font-size="27" text-anchor="start" fill="#111" textLength="13.0" lengthAdjust="spacingAndGlyphs">II</text>
<rect x="901.50" y="517.30" width="24.50" height="24.50" fill="#b3cde3"/>
<text x="943.00" y="538.50" font-size="27" text-anchor="start" fill="#111" textLength="20.5" lengthAdjust="spacingAndGlyphs">III</text>
<rect x="901.50" y="553.40" width="24.50" height="24.50" fill="#8c96c6"/>
<text x="943.00" y="574.60" font-size="27" text-anchor="start" fill="#111" textLength="41.0" lengthAdjust="spacingAndGlyphs">IVA</text>
<rect x="901.50" y="588.40" width="24.50" height="24.50" fill="#810f7c"/>
<text x="943.00" y="609.60" font-size="27" text-anchor="start" fill="#111" textLength="17.0" lengthAdjust="spacingAndGlyphs">R</text>
<text x="1032.80" y="457.50" font-size="27" text-anchor="start" fill="#111" textLength="122.0" lengthAdjust="spacingAndGlyphs">Diagnosis</text>
<rect x="1032.00" y="484.20" width="24.50" height="24.50" fill="#ffffb2"/>
<text x="1075.00" y="503.70" font-size="27" text-anchor="start" fill="#111" textLength="95.0" lengthAdjust="spacingAndGlyphs">Primary</text>
<rect x="1032.00" y="517.60" width="24.50" height="24.50" fill="#fd8d3c"/>
<text x="1075.00" y="538.00" font-size="27" text-anchor="start" fill="#111" textLength="124.0" lengthAdjust="spacingAndGlyphs">Recurrent</text>
<text x="1244.80" y="462.00" font-size="27" text-anchor="start" fill="#111" textLength="52.0" lengthAdjust="spacingAndGlyphs">HPV</text>
<rect x="1244.00" y="484.20" width="24.50" height="24.50" fill="#dddddd"/>
<text x="1287.40" y="503.70" font-size="27" text-anchor="start" fill="#111" textLength="112.0" lengthAdjust="spacingAndGlyphs">Negative</text>
<rect x="1244.00" y="517.60" width="24.50" height="24.50" fill="#4daf4a"/>
<text x="1287.40" y="538.00" font-size="27" text-anchor="start" fill="#111" textLength="97.0" lengthAdjust="spacingAndGlyphs">Positive</text>
<text x="1442.00" y="466.50" font-size="27" text-anchor="start" fill="#111" textLength="111.0" lengthAdjust="spacingAndGlyphs">Smoking</text>
<rect x="1441.60" y="484.20" width="24.50" height="24.50" fill="#dddddd"/>
<text x="1485.70" y="503.70" font-size="27" text-anchor="start" fill="#111" textLength="185.0" lengthAdjust="spacingAndGlyphs">&lt;10 pack years</text>
<rect x="1441.60" y="517.60" width="24.50" height="24.50" fill="#e41a1c"/>
<text x="1485.70" y="538.00" font-size="27" text-anchor="start" fill="#111" textLength="185.0" lengthAdjust="spacingAndGlyphs">&gt;10 pack years</text>
</g>
<g id="panel-b">
<text transform="translate(2.80 684.40) scale(1.1 1)" x="0" y="0" font-size="37.5" font-weight="bold" fill="#000" stroke="#000" stroke-width="1.9" stroke-linejoin="round">b</text>
<text x="226.10" y="690.85" font-size="26.5" text-anchor="start" fill="#111" textLength="100.5" lengthAdjust="spacingAndGlyphs"><tspan font-style="italic">P</tspan> = 0.98</text>
<polyline fill="none" stroke="#2a2a2a" stroke-width="1.4" points="210.00,730.37 210.00,706.71 342.44,706.71 342.44,788.54"/>
<line x1="122.58" y1="734.98" x2="122.58" y2="1147.08" stroke="#2a2a2a" stroke-width="1.6" />
<line x1="107.13" y1="734.98" x2="122.58" y2="734.98" stroke="#2a2a2a" stroke-width="1.6" />
<text x="92.35" y="741.28" font-size="23" text-anchor="end" fill="#111" textLength="37.5" lengthAdjust="spacingAndGlyphs">100</text>
<line x1="107.13" y1="817.40" x2="122.58" y2="817.40" stroke="#2a2a2a" stroke-width="1.6" />
<text x="92.35" y="824.34" font-size="23" text-anchor="end" fill="#111" textLength="27.8" lengthAdjust="spacingAndGlyphs">80</text>
<line x1="107.13" y1="899.82" x2="122.58" y2="899.82" stroke="#2a2a2a" stroke-width="1.6" />
<text x="92.35" y="907.40" font-size="23" text-anchor="end" fill="#111" textLength="27.8" lengthAdjust="spacingAndGlyphs">60</text>
<line x1="107.13" y1="982.24" x2="122.58" y2="982.24" stroke="#2a2a2a" stroke-width="1.6" />
<text x="92.35" y="990.46" font-size="23" text-anchor="end" fill="#111" textLength="27.8" lengthAdjust="spacingAndGlyphs">40</text>
<line x1="107.13" y1="1064.66" x2="122.58" y2="1064.66" stroke="#2a2a2a" stroke-width="1.6" />
<text x="92.35" y="1073.52" font-size="23" text-anchor="end" fill="#111" textLength="27.8" lengthAdjust="spacingAndGlyphs">20</text>
<line x1="107.13" y1="1147.08" x2="122.58" y2="1147.08" stroke="#2a2a2a" stroke-width="1.6" />
<text x="92.35" y="1156.58" font-size="23" text-anchor="end" fill="#111" textLength="13.9" lengthAdjust="spacingAndGlyphs">0</text>
<line x1="107.13" y1="1147.08" x2="432.48" y2="1147.08" stroke="#2a2a2a" stroke-width="1.6" />
<line x1="210.00" y1="1147.08" x2="210.00" y2="1161.87" stroke="#2a2a2a" stroke-width="1.6" />
<line x1="342.44" y1="1147.08" x2="342.44" y2="1161.87" stroke="#2a2a2a" stroke-width="1.6" />
<circle cx="210.00" cy="755.35" r="6.60" fill="#8fbdf8"/>
<circle cx="210.00" cy="817.46" r="6.60" fill="#8fbdf8"/>
<circle cx="210.00" cy="883.19" r="6.60" fill="#8fbdf8"/>
<circle cx="210.00" cy="903.56" r="6.60" fill="#8fbdf8"/>
<circle cx="210.00" cy="965.68" r="6.60" fill="#8fbdf8"/>
<circle cx="210.00" cy="1014.64" r="6.60" fill="#8fbdf8"/>
<circle cx="197.51" cy="1035.35" r="6.60" fill="#8fbdf8"/>
<circle cx="222.49" cy="1035.35" r="6.60" fill="#8fbdf8"/>
<circle cx="210.00" cy="1048.16" r="6.60" fill="#8fbdf8"/>
<circle cx="185.35" cy="1056.38" r="6.60" fill="#8fbdf8"/>
<circle cx="234.64" cy="1056.38" r="6.60" fill="#8fbdf8"/>
<circle cx="210.00" cy="1068.54" r="6.60" fill="#8fbdf8"/>
<circle cx="210.00" cy="1081.03" r="6.60" fill="#8fbdf8"/>
<circle cx="222.49" cy="1130.32" r="6.60" fill="#8fbdf8"/>
<circle cx="197.51" cy="1138.54" r="6.60" fill="#8fbdf8"/>
<line x1="210.00" y1="887.13" x2="210.00" y2="1111.92" stroke="#0000c0" stroke-width="4.0" />
<line x1="187.98" y1="887.13" x2="232.02" y2="887.13" stroke="#0000c0" stroke-width="4.4" />
<line x1="187.98" y1="1111.92" x2="232.02" y2="1111.92" stroke="#0000c0" stroke-width="4.4" />
<line x1="166.29" y1="999.53" x2="254.03" y2="999.53" stroke="#0000c0" stroke-width="4.4" />
<circle cx="342.11" cy="812.86" r="6.60" fill="#ff9b9b"/>
<circle cx="342.11" cy="841.78" r="6.60" fill="#ff9b9b"/>
<circle cx="342.11" cy="924.27" r="6.60" fill="#ff9b9b"/>
<circle cx="342.11" cy="940.70" r="6.60" fill="#ff9b9b"/>
<circle cx="342.11" cy="957.46" r="6.60" fill="#ff9b9b"/>
<circle cx="342.11" cy="977.84" r="6.60" fill="#ff9b9b"/>
<circle cx="342.11" cy="1011.03" r="6.60" fill="#ff9b9b"/>
<circle cx="342.11" cy="1060.32" r="6.60" fill="#ff9b9b"/>
<circle cx="342.11" cy="1089.24" r="6.60" fill="#ff9b9b"/>
<circle cx="342.11" cy="1105.35" r="6.60" fill="#ff9b9b"/>
<circle cx="329.95" cy="1141.17" r="6.60" fill="#ff9b9b"/>
<circle cx="354.27" cy="1141.17" r="6.60" fill="#ff9b9b"/>
<line x1="342.11" y1="890.09" x2="342.11" y2="1110.60" stroke="#9c0000" stroke-width="4.0" />
<line x1="320.42" y1="890.09" x2="364.13" y2="890.09" stroke="#9c0000" stroke-width="4.4" />
<line x1="320.42" y1="1110.60" x2="364.13" y2="1110.60" stroke="#9c0000" stroke-width="4.4" />
<line x1="298.40" y1="1000.51" x2="385.82" y2="1000.51" stroke="#9c0000" stroke-width="4.4" />
<text x="221.12" y="1185.46" font-size="27" text-anchor="end" fill="#111" textLength="181.0" lengthAdjust="spacingAndGlyphs" transform="rotate(-45 221.12 1185.46)">Nonresponder</text>
<text x="353.56" y="1185.46" font-size="27" text-anchor="end" fill="#111" textLength="137.0" lengthAdjust="spacingAndGlyphs" transform="rotate(-45 353.56 1185.46)">Responder</text>
<text x="30.89" y="941.03" font-size="27" text-anchor="middle" fill="#111" textLength="117.0" lengthAdjust="spacingAndGlyphs" transform="rotate(-90 30.89 941.03)">PDL1 CPS</text>
</g>
<g id="panel-c">
<text transform="translate(685.55 684.40) scale(1.1 1)" x="0" y="0" font-size="37.5" font-weight="bold" fill="#000" stroke="#000" stroke-width="1.9" stroke-linejoin="round">c</text>
<text x="915.68" y="701.70" font-size="26.5" text-anchor="start" fill="#111" textLength="100.0" lengthAdjust="spacingAndGlyphs"><tspan font-style="italic">P</tspan> = 0.62</text>
<polyline fill="none" stroke="#2a2a2a" stroke-width="1.4" points="907.46,745.16 907.46,720.84 1040.23,720.84 1040.23,985.07"/>
<line x1="820.04" y1="713.94" x2="820.04" y2="1125.39" stroke="#2a2a2a" stroke-width="1.6" />
<line x1="804.60" y1="713.94" x2="820.04" y2="713.94" stroke="#2a2a2a" stroke-width="1.6" />
<text x="791.45" y="721.34" font-size="23" text-anchor="end" fill="#111" textLength="27.8" lengthAdjust="spacingAndGlyphs">30</text>
<line x1="804.60" y1="850.98" x2="820.04" y2="850.98" stroke="#2a2a2a" stroke-width="1.6" />
<text x="791.45" y="858.38" font-size="23" text-anchor="end" fill="#111" textLength="27.8" lengthAdjust="spacingAndGlyphs">20</text>
<line x1="804.60" y1="988.35" x2="820.04" y2="988.35" stroke="#2a2a2a" stroke-width="1.6" />
<text x="791.45" y="995.75" font-size="23" text-anchor="end" fill="#111" textLength="23.6" lengthAdjust="spacingAndGlyphs">10</text>
<line x1="804.60" y1="1125.39" x2="820.04" y2="1125.39" stroke="#2a2a2a" stroke-width="1.6" />
<text x="791.45" y="1132.79" font-size="23" text-anchor="end" fill="#111" textLength="13.9" lengthAdjust="spacingAndGlyphs">0</text>
<line x1="804.60" y1="1125.39" x2="1129.95" y2="1125.39" stroke="#2a2a2a" stroke-width="1.6" />
<line x1="907.46" y1="1125.39" x2="907.46" y2="1140.51" stroke="#2a2a2a" stroke-width="1.6" />
<line x1="1040.23" y1="1125.39" x2="1040.23" y2="1140.51" stroke="#2a2a2a" stroke-width="1.6" />
<circle cx="907.46" cy="770.14" r="6.60" fill="#8fbdf8"/>
<circle cx="907.46" cy="996.57" r="6.60" fill="#8fbdf8"/>
<circle cx="899.90" cy="1043.23" r="6.60" fill="#8fbdf8"/>
<circle cx="915.35" cy="1047.51" r="6.60" fill="#8fbdf8"/>
<circle cx="915.35" cy="1066.57" r="6.60" fill="#8fbdf8"/>
<circle cx="930.14" cy="1073.80" r="6.60" fill="#8fbdf8"/>
<circle cx="899.90" cy="1077.74" r="6.60" fill="#8fbdf8"/>
<circle cx="930.14" cy="1094.50" r="6.60" fill="#8fbdf8"/>
<circle cx="870.33" cy="1106.66" r="6.60" fill="#8fbdf8"/>
<circle cx="884.79" cy="1104.36" r="6.60" fill="#8fbdf8"/>
<circle cx="899.90" cy="1106.66" r="6.60" fill="#8fbdf8"/>
<circle cx="915.02" cy="1104.03" r="6.60" fill="#8fbdf8"/>
<circle cx="945.25" cy="1104.36" r="6.60" fill="#8fbdf8"/>
<circle cx="930.14" cy="1113.56" r="6.60" fill="#8fbdf8"/>
<circle cx="915.35" cy="1117.83" r="6.60" fill="#8fbdf8"/>
<circle cx="884.79" cy="1124.41" r="6.60" fill="#8fbdf8"/>
<line x1="907.46" y1="1051.78" x2="907.46" y2="1106.33" stroke="#0000c0" stroke-width="4.0" />
<line x1="885.44" y1="1051.78" x2="929.48" y2="1051.78" stroke="#0000c0" stroke-width="4.4" />
<line x1="885.44" y1="1106.33" x2="929.48" y2="1106.33" stroke="#0000c0" stroke-width="4.4" />
<line x1="863.75" y1="1098.77" x2="951.50" y2="1098.77" stroke="#0000c0" stroke-width="4.4" />
<circle cx="1039.57" cy="1009.38" r="6.60" fill="#ff9b9b"/>
<circle cx="1039.57" cy="1058.02" r="6.60" fill="#ff9b9b"/>
<circle cx="1027.08" cy="1071.50" r="6.60" fill="#ff9b9b"/>
<circle cx="1078.02" cy="1073.80" r="6.60" fill="#ff9b9b"/>
<circle cx="1001.78" cy="1080.37" r="6.60" fill="#ff9b9b"/>
<circle cx="1052.72" cy="1085.30" r="6.60" fill="#ff9b9b"/>
<circle cx="1027.08" cy="1091.87" r="6.60" fill="#ff9b9b"/>
<circle cx="1078.02" cy="1090.23" r="6.60" fill="#ff9b9b"/>
<circle cx="1027.08" cy="1103.70" r="6.60" fill="#ff9b9b"/>
<circle cx="1052.72" cy="1100.09" r="6.60" fill="#ff9b9b"/>
<circle cx="1078.02" cy="1103.70" r="6.60" fill="#ff9b9b"/>
<circle cx="1039.57" cy="1124.41" r="6.60" fill="#ff9b9b"/>
<line x1="1040.23" y1="1071.50" x2="1040.23" y2="1102.72" stroke="#9c0000" stroke-width="4.0" />
<line x1="1018.21" y1="1071.50" x2="1061.59" y2="1071.50" stroke="#9c0000" stroke-width="4.4" />
<line x1="1018.21" y1="1102.72" x2="1061.59" y2="1102.72" stroke="#9c0000" stroke-width="4.4" />
<line x1="995.86" y1="1086.94" x2="1083.94" y2="1086.94" stroke="#9c0000" stroke-width="4.4" />
<text x="916.46" y="1165.89" font-size="27" text-anchor="end" fill="#111" textLength="181.0" lengthAdjust="spacingAndGlyphs" transform="rotate(-45 916.46 1165.89)">Nonresponder</text>
<text x="1049.23" y="1165.89" font-size="27" text-anchor="end" fill="#111" textLength="137.0" lengthAdjust="spacingAndGlyphs" transform="rotate(-45 1049.23 1165.89)">Responder</text>
<text x="708.64" y="920.00" font-size="27" text-anchor="middle" fill="#111" textLength="57.0" lengthAdjust="spacingAndGlyphs" transform="rotate(-90 708.64 920.00)">TMB</text>
<text x="739.20" y="920.00" font-size="27" text-anchor="middle" fill="#111" textLength="240.0" lengthAdjust="spacingAndGlyphs" transform="rotate(-90 739.20 920.00)">(mutations per Mb)</text>
</g>
<g id="panel-d">
<text transform="translate(1367.95 684.40) scale(1.1 1)" x="0" y="0" font-size="37.5" font-weight="bold" fill="#000" stroke="#000" stroke-width="1.9" stroke-linejoin="round">d</text>
<text x="1794.78" y="679.63" font-size="27" text-anchor="middle" fill="#111" textLength="295.0" lengthAdjust="spacingAndGlyphs">Immune deconvolution</text>
<line x1="1486.25" y1="714.07" x2="1486.25" y2="1125.45" stroke="#2a2a2a" stroke-width="1.6" />
<line x1="1472.09" y1="714.07" x2="1486.25" y2="714.07" stroke="#2a2a2a" stroke-width="1.6" />
<text x="1458.88" y="721.47" font-size="23" text-anchor="end" fill="#111" textLength="34.0" lengthAdjust="spacingAndGlyphs">2.0</text>
<line x1="1472.09" y1="816.91" x2="1486.25" y2="816.91" stroke="#2a2a2a" stroke-width="1.6" />
<text x="1458.88" y="824.31" font-size="23" text-anchor="end" fill="#111" textLength="29.8" lengthAdjust="spacingAndGlyphs">1.5</text>
<line x1="1472.09" y1="919.76" x2="1486.25" y2="919.76" stroke="#2a2a2a" stroke-width="1.6" />
<text x="1458.88" y="927.16" font-size="23" text-anchor="end" fill="#111" textLength="29.8" lengthAdjust="spacingAndGlyphs">1.0</text>
<line x1="1472.09" y1="1022.60" x2="1486.25" y2="1022.60" stroke="#2a2a2a" stroke-width="1.6" />
<text x="1458.88" y="1030.00" font-size="23" text-anchor="end" fill="#111" textLength="34.0" lengthAdjust="spacingAndGlyphs">0.5</text>
<line x1="1472.09" y1="1125.45" x2="1486.25" y2="1125.45" stroke="#2a2a2a" stroke-width="1.6" />
<text x="1458.88" y="1132.85" font-size="23" text-anchor="end" fill="#111" textLength="13.9" lengthAdjust="spacingAndGlyphs">0</text>
<line x1="1472.09" y1="1125.45" x2="2104.26" y2="1125.45" stroke="#2a2a2a" stroke-width="1.6" />
<line x1="1486.25" y1="1125.45" x2="1486.25" y2="1140.07" stroke="#2a2a2a" stroke-width="1.6" />
<text x="1486.25" y="1172.41" font-size="23" text-anchor="middle" fill="#111" textLength="42.7" lengthAdjust="spacingAndGlyphs">–1.0</text>
<line x1="1640.99" y1="1125.45" x2="1640.99" y2="1140.07" stroke="#2a2a2a" stroke-width="1.6" />
<text x="1640.99" y="1172.41" font-size="23" text-anchor="middle" fill="#111" textLength="46.9" lengthAdjust="spacingAndGlyphs">–0.5</text>
<line x1="1795.25" y1="1125.45" x2="1795.25" y2="1140.07" stroke="#2a2a2a" stroke-width="1.6" />
<text x="1795.25" y="1172.41" font-size="23" text-anchor="middle" fill="#111" textLength="13.9" lengthAdjust="spacingAndGlyphs">0</text>
<line x1="1949.99" y1="1125.45" x2="1949.99" y2="1140.07" stroke="#2a2a2a" stroke-width="1.6" />
<text x="1949.99" y="1172.41" font-size="23" text-anchor="middle" fill="#111" textLength="34.0" lengthAdjust="spacingAndGlyphs">0.5</text>
<line x1="2104.26" y1="1125.45" x2="2104.26" y2="1140.07" stroke="#2a2a2a" stroke-width="1.6" />
<text x="2104.26" y="1172.41" font-size="23" text-anchor="middle" fill="#111" textLength="29.8" lengthAdjust="spacingAndGlyphs">1.0</text>
<circle cx="1539.08" cy="795.68" r="8.70" fill="#9e9e9e"/>
<circle cx="2030.66" cy="822.57" r="8.70" fill="#9e9e9e"/>
<circle cx="1985.37" cy="912.68" r="8.70" fill="#9e9e9e"/>
<circle cx="1980.18" cy="925.89" r="8.70" fill="#9e9e9e"/>
<circle cx="1954.71" cy="968.82" r="8.70" fill="#9e9e9e"/>
<circle cx="1972.16" cy="970.24" r="8.70" fill="#9e9e9e"/>
<circle cx="1931.59" cy="990.99" r="8.70" fill="#9e9e9e"/>
<circle cx="1923.10" cy="1004.20" r="8.70" fill="#9e9e9e"/>
<circle cx="1918.38" cy="1016.94" r="8.70" fill="#9e9e9e"/>
<circle cx="1907.53" cy="1032.98" r="8.70" fill="#9e9e9e"/>
<circle cx="1896.68" cy="1037.70" r="8.70" fill="#9e9e9e"/>
<circle cx="1667.40" cy="1010.81" r="8.70" fill="#9e9e9e"/>
<circle cx="1672.59" cy="1023.54" r="8.70" fill="#9e9e9e"/>
<circle cx="1722.13" cy="1068.36" r="8.70" fill="#9e9e9e"/>
<circle cx="1725.90" cy="1074.97" r="8.70" fill="#9e9e9e"/>
<circle cx="1727.79" cy="1079.68" r="8.70" fill="#9e9e9e"/>
<circle cx="1758.93" cy="1102.80" r="8.70" fill="#9e9e9e"/>
<circle cx="1769.31" cy="1108.93" r="8.70" fill="#9e9e9e"/>
<circle cx="1795.25" cy="1124.97" r="8.70" fill="#9e9e9e"/>
<circle cx="1811.76" cy="1116.01" r="8.70" fill="#9e9e9e"/>
<circle cx="1826.86" cy="1105.63" r="8.70" fill="#9e9e9e"/>
<circle cx="1841.01" cy="1094.31" r="8.70" fill="#9e9e9e"/>
<circle cx="1845.73" cy="1092.89" r="8.70" fill="#9e9e9e"/>
<circle cx="1850.92" cy="1088.18" r="8.70" fill="#9e9e9e"/>
<circle cx="1859.88" cy="1082.99" r="8.70" fill="#9e9e9e"/>
<text x="1549.46" y="784.47" font-size="27" text-anchor="start" fill="#111" textLength="310.0" lengthAdjust="spacingAndGlyphs">Neutrophils (FDR = 0.44)</text>
<text x="2050.01" y="832.12" font-size="27" text-anchor="start" fill="#111" textLength="107.0" lengthAdjust="spacingAndGlyphs">T<tspan font-size="18" dy="7.2">EM</tspan><tspan dy="-7.2" font-size="1">​</tspan> cells</text>
<text x="2003.77" y="923.39" font-size="27" text-anchor="start" fill="#111" textLength="81.0" lengthAdjust="spacingAndGlyphs">T cells</text>
<text x="1399.44" y="919.76" font-size="27" text-anchor="middle" fill="#111" textLength="93.0" lengthAdjust="spacingAndGlyphs" transform="rotate(-90 1399.44 919.76)">–log<tspan font-size="19" dy="7.6">10</tspan><tspan dy="-7.6" font-size="1">​</tspan><tspan font-style="italic">P</tspan></text>
<text x="1795.72" y="1221.21" font-size="27" text-anchor="middle" fill="#111" textLength="565.0" lengthAdjust="spacingAndGlyphs">Difference in responders and nonresponders</text>
<line x1="1497.66" y1="1252.82" x2="2094.26" y2="1252.82" stroke="#3f4d63" stroke-width="4.7" />
<path d="M1487.66,1252.82 L1504.46,1245.92 L1501.66,1252.82 L1504.46,1259.72 Z" fill="#3f4d63"/>
<path d="M2104.26,1252.82 L2087.46,1245.92 L2090.26,1252.82 L2087.46,1259.72 Z" fill="#3f4d63"/>
<text x="1590.98" y="1302.83" font-size="27" text-anchor="middle" fill="#1212f5" textLength="116.0" lengthAdjust="spacingAndGlyphs">Higher in</text>
<text x="1590.98" y="1335.85" font-size="27" text-anchor="middle" fill="#1212f5" textLength="191.0" lengthAdjust="spacingAndGlyphs">nonresponders</text>
<text x="2032.55" y="1302.83" font-size="27" text-anchor="middle" fill="#d40000" textLength="116.0" lengthAdjust="spacingAndGlyphs">Higher in</text>
<text x="2032.55" y="1335.85" font-size="27" text-anchor="middle" fill="#d40000" textLength="143.0" lengthAdjust="spacingAndGlyphs">responders</text>
</g>
<g id="panel-e">
<text transform="translate(3.10 1412.40) scale(1.1 1)" x="0" y="0" font-size="37.5" font-weight="bold" fill="#000" stroke="#000" stroke-width="1.9" stroke-linejoin="round">e</text>
<text x="227.74" y="1415.27" font-size="26.5" text-anchor="start" fill="#111" textLength="99.5" lengthAdjust="spacingAndGlyphs"><tspan font-style="italic">P</tspan> = 0.52</text>
<polyline fill="none" stroke="#2a2a2a" stroke-width="1.4" points="211.31,1458.07 211.31,1434.41 344.41,1434.41 344.41,1504.08"/>
<line x1="124.55" y1="1456.10" x2="124.55" y2="1868.21" stroke="#2a2a2a" stroke-width="1.6" />
<line x1="109.11" y1="1456.10" x2="124.55" y2="1456.10" stroke="#2a2a2a" stroke-width="1.6" />
<text x="95.30" y="1463.50" font-size="23" text-anchor="end" fill="#111" textLength="13.9" lengthAdjust="spacingAndGlyphs">0</text>
<line x1="109.11" y1="1643.09" x2="124.55" y2="1643.09" stroke="#2a2a2a" stroke-width="1.6" />
<text x="95.30" y="1650.49" font-size="23" text-anchor="end" fill="#111" textLength="46.9" lengthAdjust="spacingAndGlyphs">–0.5</text>
<line x1="109.11" y1="1830.74" x2="124.55" y2="1830.74" stroke="#2a2a2a" stroke-width="1.6" />
<text x="95.30" y="1838.14" font-size="23" text-anchor="end" fill="#111" textLength="42.7" lengthAdjust="spacingAndGlyphs">–1.0</text>
<line x1="124.55" y1="1868.21" x2="435.44" y2="1868.21" stroke="#2a2a2a" stroke-width="1.6" />
<line x1="212.30" y1="1868.21" x2="212.30" y2="1883.33" stroke="#2a2a2a" stroke-width="1.6" />
<line x1="344.41" y1="1868.21" x2="344.41" y2="1883.33" stroke="#2a2a2a" stroke-width="1.6" />
<circle cx="212.30" cy="1483.71" r="6.60" fill="#8fbdf8"/>
<circle cx="212.30" cy="1553.05" r="6.60" fill="#8fbdf8"/>
<circle cx="212.30" cy="1573.10" r="6.60" fill="#8fbdf8"/>
<circle cx="199.81" cy="1687.46" r="6.60" fill="#8fbdf8"/>
<circle cx="224.79" cy="1685.49" r="6.60" fill="#8fbdf8"/>
<circle cx="212.30" cy="1723.61" r="6.60" fill="#8fbdf8"/>
<circle cx="212.30" cy="1750.56" r="6.60" fill="#8fbdf8"/>
<circle cx="212.30" cy="1765.02" r="6.60" fill="#8fbdf8"/>
<circle cx="212.30" cy="1778.49" r="6.60" fill="#8fbdf8"/>
<circle cx="199.81" cy="1791.64" r="6.60" fill="#8fbdf8"/>
<circle cx="224.79" cy="1801.50" r="6.60" fill="#8fbdf8"/>
<circle cx="212.30" cy="1817.60" r="6.60" fill="#8fbdf8"/>
<line x1="212.30" y1="1591.83" x2="212.30" y2="1810.37" stroke="#0000c0" stroke-width="4.0" />
<line x1="190.28" y1="1591.83" x2="234.32" y2="1591.83" stroke="#0000c0" stroke-width="4.4" />
<line x1="190.28" y1="1810.37" x2="234.32" y2="1810.37" stroke="#0000c0" stroke-width="4.4" />
<line x1="168.26" y1="1700.61" x2="256.33" y2="1700.61" stroke="#0000c0" stroke-width="4.4" />
<circle cx="344.41" cy="1528.73" r="6.60" fill="#ff9b9b"/>
<circle cx="344.41" cy="1560.28" r="6.60" fill="#ff9b9b"/>
<circle cx="344.41" cy="1590.84" r="6.60" fill="#ff9b9b"/>
<circle cx="344.41" cy="1630.94" r="6.60" fill="#ff9b9b"/>
<circle cx="344.41" cy="1651.97" r="6.60" fill="#ff9b9b"/>
<circle cx="344.41" cy="1683.85" r="6.60" fill="#ff9b9b"/>
<circle cx="344.41" cy="1697.32" r="6.60" fill="#ff9b9b"/>
<circle cx="357.23" cy="1753.84" r="6.60" fill="#ff9b9b"/>
<circle cx="331.92" cy="1759.43" r="6.60" fill="#ff9b9b"/>
<circle cx="331.92" cy="1779.81" r="6.60" fill="#ff9b9b"/>
<circle cx="357.23" cy="1777.83" r="6.60" fill="#ff9b9b"/>
<line x1="344.41" y1="1584.93" x2="344.41" y2="1763.05" stroke="#9c0000" stroke-width="4.0" />
<line x1="322.72" y1="1584.93" x2="366.43" y2="1584.93" stroke="#9c0000" stroke-width="4.4" />
<line x1="322.72" y1="1763.05" x2="366.43" y2="1763.05" stroke="#9c0000" stroke-width="4.4" />
<line x1="300.70" y1="1673.99" x2="388.77" y2="1673.99" stroke="#9c0000" stroke-width="4.4" />
<text x="222.15" y="1907.86" font-size="27" text-anchor="end" fill="#111" textLength="181.0" lengthAdjust="spacingAndGlyphs" transform="rotate(-45 222.15 1907.86)">Nonresponder</text>
<text x="354.26" y="1907.86" font-size="27" text-anchor="end" fill="#111" textLength="137.0" lengthAdjust="spacingAndGlyphs" transform="rotate(-45 354.26 1907.86)">Responder</text>
<text x="22.35" y="1662.48" font-size="27" text-anchor="middle" fill="#111" textLength="229.0" lengthAdjust="spacingAndGlyphs" transform="rotate(-90 22.35 1662.48)">log<tspan font-size="19" dy="7.6">10</tspan><tspan dy="-7.6" font-size="1">​</tspan>(HPV burden)</text>
</g>
<g id="panel-f">
<text transform="translate(575.60 1412.40) scale(1.1 1)" x="0" y="0" font-size="37.5" font-weight="bold" fill="#000" stroke="#000" stroke-width="1.9" stroke-linejoin="round">f</text>
<text x="764.41" y="1453.82" font-size="26.5" text-anchor="start" fill="#9e0000" textLength="160.5" lengthAdjust="spacingAndGlyphs"><tspan font-style="italic">P</tspan> = 6.8 × 10<tspan font-size="18" dy="-11.2">−3</tspan><tspan dy="11.2" font-size="1">​</tspan></text>
<polyline fill="none" stroke="#a6262b" stroke-width="1.5" points="773.61,1492.25 773.61,1468.59 912.30,1468.59 912.30,1766.00"/>
<line x1="686.20" y1="1456.76" x2="686.20" y2="1868.21" stroke="#2a2a2a" stroke-width="1.6" />
<line x1="671.08" y1="1456.76" x2="686.20" y2="1456.76" stroke="#2a2a2a" stroke-width="1.6" />
<text x="656.95" y="1464.16" font-size="23" text-anchor="end" fill="#111" textLength="29.8" lengthAdjust="spacingAndGlyphs">1.2</text>
<line x1="671.08" y1="1525.33" x2="686.20" y2="1525.33" stroke="#2a2a2a" stroke-width="1.6" />
<text x="656.95" y="1532.73" font-size="23" text-anchor="end" fill="#111" textLength="29.8" lengthAdjust="spacingAndGlyphs">1.0</text>
<line x1="671.08" y1="1593.91" x2="686.20" y2="1593.91" stroke="#2a2a2a" stroke-width="1.6" />
<text x="656.95" y="1601.31" font-size="23" text-anchor="end" fill="#111" textLength="34.0" lengthAdjust="spacingAndGlyphs">0.8</text>
<line x1="671.08" y1="1662.48" x2="686.20" y2="1662.48" stroke="#2a2a2a" stroke-width="1.6" />
<text x="656.95" y="1669.88" font-size="23" text-anchor="end" fill="#111" textLength="34.0" lengthAdjust="spacingAndGlyphs">0.6</text>
<line x1="671.08" y1="1731.06" x2="686.20" y2="1731.06" stroke="#2a2a2a" stroke-width="1.6" />
<text x="656.95" y="1738.46" font-size="23" text-anchor="end" fill="#111" textLength="34.0" lengthAdjust="spacingAndGlyphs">0.4</text>
<line x1="671.08" y1="1799.63" x2="686.20" y2="1799.63" stroke="#2a2a2a" stroke-width="1.6" />
<text x="656.95" y="1807.03" font-size="23" text-anchor="end" fill="#111" textLength="34.0" lengthAdjust="spacingAndGlyphs">0.2</text>
<line x1="671.08" y1="1868.21" x2="686.20" y2="1868.21" stroke="#2a2a2a" stroke-width="1.6" />
<text x="656.95" y="1875.61" font-size="23" text-anchor="end" fill="#111" textLength="13.9" lengthAdjust="spacingAndGlyphs">0</text>
<line x1="671.08" y1="1868.21" x2="996.10" y2="1868.21" stroke="#2a2a2a" stroke-width="1.6" />
<line x1="773.61" y1="1868.21" x2="773.61" y2="1883.33" stroke="#2a2a2a" stroke-width="1.6" />
<line x1="905.72" y1="1868.21" x2="905.72" y2="1883.33" stroke="#2a2a2a" stroke-width="1.6" />
<circle cx="773.61" cy="1506.05" r="6.60" fill="#8fbdf8"/>
<circle cx="773.61" cy="1572.44" r="6.60" fill="#8fbdf8"/>
<circle cx="761.12" cy="1603.99" r="6.60" fill="#8fbdf8"/>
<circle cx="786.10" cy="1604.97" r="6.60" fill="#8fbdf8"/>
<circle cx="748.96" cy="1640.14" r="6.60" fill="#8fbdf8"/>
<circle cx="773.61" cy="1651.31" r="6.60" fill="#8fbdf8"/>
<circle cx="773.61" cy="1670.70" r="6.60" fill="#8fbdf8"/>
<circle cx="773.61" cy="1764.69" r="6.60" fill="#8fbdf8"/>
<circle cx="773.61" cy="1786.71" r="6.60" fill="#8fbdf8"/>
<circle cx="773.61" cy="1819.90" r="6.60" fill="#8fbdf8"/>
<circle cx="748.96" cy="1832.39" r="6.60" fill="#8fbdf8"/>
<circle cx="798.26" cy="1833.37" r="6.60" fill="#8fbdf8"/>
<circle cx="748.96" cy="1844.88" r="6.60" fill="#8fbdf8"/>
<circle cx="798.26" cy="1852.11" r="6.60" fill="#8fbdf8"/>
<circle cx="773.61" cy="1853.09" r="6.60" fill="#8fbdf8"/>
<circle cx="773.61" cy="1865.58" r="6.60" fill="#8fbdf8"/>
<line x1="773.61" y1="1609.90" x2="773.61" y2="1852.43" stroke="#0000c0" stroke-width="4.0" />
<line x1="751.59" y1="1609.90" x2="795.63" y2="1609.90" stroke="#0000c0" stroke-width="4.4" />
<line x1="751.59" y1="1852.43" x2="795.63" y2="1852.43" stroke="#0000c0" stroke-width="4.4" />
<line x1="729.58" y1="1731.17" x2="817.65" y2="1731.17" stroke="#0000c0" stroke-width="4.4" />
<circle cx="918.21" cy="1768.96" r="6.60" fill="#ff9b9b"/>
<circle cx="893.23" cy="1776.85" r="6.60" fill="#ff9b9b"/>
<circle cx="918.21" cy="1815.63" r="6.60" fill="#ff9b9b"/>
<circle cx="893.23" cy="1818.91" r="6.60" fill="#ff9b9b"/>
<circle cx="867.93" cy="1833.37" r="6.60" fill="#ff9b9b"/>
<circle cx="893.23" cy="1832.72" r="6.60" fill="#ff9b9b"/>
<circle cx="918.21" cy="1832.72" r="6.60" fill="#ff9b9b"/>
<circle cx="943.52" cy="1836.99" r="6.60" fill="#ff9b9b"/>
<circle cx="867.93" cy="1846.52" r="6.60" fill="#ff9b9b"/>
<circle cx="943.52" cy="1857.04" r="6.60" fill="#ff9b9b"/>
<circle cx="918.21" cy="1858.02" r="6.60" fill="#ff9b9b"/>
<circle cx="867.93" cy="1862.95" r="6.60" fill="#ff9b9b"/>
<line x1="905.72" y1="1798.21" x2="905.72" y2="1858.68" stroke="#9c0000" stroke-width="4.0" />
<line x1="883.70" y1="1798.21" x2="927.74" y2="1798.21" stroke="#9c0000" stroke-width="4.4" />
<line x1="883.70" y1="1858.68" x2="927.74" y2="1858.68" stroke="#9c0000" stroke-width="4.4" />
<line x1="861.69" y1="1828.12" x2="949.76" y2="1828.12" stroke="#9c0000" stroke-width="4.4" />
<text x="782.61" y="1908.71" font-size="27" text-anchor="end" fill="#111" textLength="181.0" lengthAdjust="spacingAndGlyphs" transform="rotate(-45 782.61 1908.71)">Nonresponder</text>
<text x="914.72" y="1908.71" font-size="27" text-anchor="end" fill="#111" textLength="137.0" lengthAdjust="spacingAndGlyphs" transform="rotate(-45 914.72 1908.71)">Responder</text>
<text x="599.76" y="1662.48" font-size="27" text-anchor="middle" fill="#111" textLength="127.0" lengthAdjust="spacingAndGlyphs" transform="rotate(-90 599.76 1662.48)">log<tspan font-size="19" dy="7.6">10</tspan><tspan dy="-7.6" font-size="1">​</tspan>(TBB)</text>
</g>
<g id="panel-g">
<text transform="translate(1127.20 1412.40) scale(1.1 1)" x="0" y="0" font-size="37.5" font-weight="bold" fill="#000" stroke="#000" stroke-width="1.9" stroke-linejoin="round">g</text>
<text x="1321.97" y="1451.52" font-size="26.5" text-anchor="start" fill="#9e0000" textLength="155.5" lengthAdjust="spacingAndGlyphs"><tspan font-style="italic">P</tspan> = 2.2 × 10<tspan font-size="18" dy="-11.2">−2</tspan><tspan dy="11.2" font-size="1">​</tspan></text>
<polyline fill="none" stroke="#a6262b" stroke-width="1.5" points="1332.16,1485.68 1332.16,1461.36 1463.28,1461.36 1463.28,1620.42"/>
<line x1="1243.10" y1="1456.10" x2="1243.10" y2="1867.55" stroke="#2a2a2a" stroke-width="1.6" />
<line x1="1227.65" y1="1456.10" x2="1243.10" y2="1456.10" stroke="#2a2a2a" stroke-width="1.6" />
<text x="1213.85" y="1463.50" font-size="23" text-anchor="end" fill="#111" textLength="29.8" lengthAdjust="spacingAndGlyphs">1.2</text>
<line x1="1227.65" y1="1524.68" x2="1243.10" y2="1524.68" stroke="#2a2a2a" stroke-width="1.6" />
<text x="1213.85" y="1532.08" font-size="23" text-anchor="end" fill="#111" textLength="29.8" lengthAdjust="spacingAndGlyphs">1.0</text>
<line x1="1227.65" y1="1593.25" x2="1243.10" y2="1593.25" stroke="#2a2a2a" stroke-width="1.6" />
<text x="1213.85" y="1600.65" font-size="23" text-anchor="end" fill="#111" textLength="34.0" lengthAdjust="spacingAndGlyphs">0.8</text>
<line x1="1227.65" y1="1661.83" x2="1243.10" y2="1661.83" stroke="#2a2a2a" stroke-width="1.6" />
<text x="1213.85" y="1669.23" font-size="23" text-anchor="end" fill="#111" textLength="34.0" lengthAdjust="spacingAndGlyphs">0.6</text>
<line x1="1227.65" y1="1730.40" x2="1243.10" y2="1730.40" stroke="#2a2a2a" stroke-width="1.6" />
<text x="1213.85" y="1737.80" font-size="23" text-anchor="end" fill="#111" textLength="34.0" lengthAdjust="spacingAndGlyphs">0.4</text>
<line x1="1227.65" y1="1798.98" x2="1243.10" y2="1798.98" stroke="#2a2a2a" stroke-width="1.6" />
<text x="1213.85" y="1806.38" font-size="23" text-anchor="end" fill="#111" textLength="34.0" lengthAdjust="spacingAndGlyphs">0.2</text>
<line x1="1227.65" y1="1867.55" x2="1243.10" y2="1867.55" stroke="#2a2a2a" stroke-width="1.6" />
<text x="1213.85" y="1874.95" font-size="23" text-anchor="end" fill="#111" textLength="13.9" lengthAdjust="spacingAndGlyphs">0</text>
<line x1="1227.65" y1="1867.55" x2="1553.66" y2="1867.55" stroke="#2a2a2a" stroke-width="1.6" />
<line x1="1330.84" y1="1867.55" x2="1330.84" y2="1882.67" stroke="#2a2a2a" stroke-width="1.6" />
<line x1="1463.28" y1="1867.55" x2="1463.28" y2="1882.67" stroke="#2a2a2a" stroke-width="1.6" />
<circle cx="1330.84" cy="1505.73" r="6.60" fill="#8fbdf8"/>
<circle cx="1330.84" cy="1572.11" r="6.60" fill="#8fbdf8"/>
<circle cx="1330.84" cy="1604.97" r="6.60" fill="#8fbdf8"/>
<circle cx="1330.84" cy="1650.65" r="6.60" fill="#8fbdf8"/>
<circle cx="1330.84" cy="1670.04" r="6.60" fill="#8fbdf8"/>
<circle cx="1330.84" cy="1764.69" r="6.60" fill="#8fbdf8"/>
<circle cx="1330.84" cy="1786.05" r="6.60" fill="#8fbdf8"/>
<circle cx="1343.33" cy="1834.36" r="6.60" fill="#8fbdf8"/>
<circle cx="1318.68" cy="1842.58" r="6.60" fill="#8fbdf8"/>
<circle cx="1343.33" cy="1851.78" r="6.60" fill="#8fbdf8"/>
<circle cx="1330.84" cy="1864.59" r="6.60" fill="#8fbdf8"/>
<line x1="1330.84" y1="1595.44" x2="1330.84" y2="1849.48" stroke="#0000c0" stroke-width="4.0" />
<line x1="1308.82" y1="1595.44" x2="1352.86" y2="1595.44" stroke="#0000c0" stroke-width="4.4" />
<line x1="1308.82" y1="1849.48" x2="1352.86" y2="1849.48" stroke="#0000c0" stroke-width="4.4" />
<line x1="1286.81" y1="1722.62" x2="1374.88" y2="1722.62" stroke="#0000c0" stroke-width="4.4" />
<circle cx="1463.28" cy="1639.15" r="6.60" fill="#ff9b9b"/>
<circle cx="1482.34" cy="1769.29" r="6.60" fill="#ff9b9b"/>
<circle cx="1463.28" cy="1777.18" r="6.60" fill="#ff9b9b"/>
<circle cx="1472.81" cy="1814.97" r="6.60" fill="#ff9b9b"/>
<circle cx="1453.75" cy="1817.93" r="6.60" fill="#ff9b9b"/>
<circle cx="1501.07" cy="1832.39" r="6.60" fill="#ff9b9b"/>
<circle cx="1425.49" cy="1835.35" r="6.60" fill="#ff9b9b"/>
<circle cx="1444.22" cy="1833.05" r="6.60" fill="#ff9b9b"/>
<circle cx="1463.28" cy="1836.66" r="6.60" fill="#ff9b9b"/>
<circle cx="1482.34" cy="1844.22" r="6.60" fill="#ff9b9b"/>
<circle cx="1444.22" cy="1845.53" r="6.60" fill="#ff9b9b"/>
<circle cx="1482.34" cy="1857.04" r="6.60" fill="#ff9b9b"/>
<circle cx="1463.28" cy="1857.36" r="6.60" fill="#ff9b9b"/>
<circle cx="1444.22" cy="1861.96" r="6.60" fill="#ff9b9b"/>
<line x1="1463.28" y1="1758.12" x2="1463.28" y2="1867.22" stroke="#9c0000" stroke-width="4.0" />
<line x1="1441.26" y1="1758.12" x2="1484.97" y2="1758.12" stroke="#9c0000" stroke-width="4.4" />
<line x1="1441.26" y1="1867.22" x2="1484.97" y2="1867.22" stroke="#9c0000" stroke-width="4.4" />
<line x1="1419.24" y1="1815.96" x2="1507.32" y2="1815.96" stroke="#9c0000" stroke-width="4.4" />
<text x="1330.84" y="1913.90" font-size="22" text-anchor="middle" fill="#111" textLength="30.0" lengthAdjust="spacingAndGlyphs">No</text>
<text x="1463.28" y="1913.90" font-size="22" text-anchor="middle" fill="#111" textLength="37.0" lengthAdjust="spacingAndGlyphs">Yes</text>
<text x="1397.55" y="1958.27" font-size="27" text-anchor="middle" fill="#111" textLength="281.0" lengthAdjust="spacingAndGlyphs">Pathological response</text>
<text x="1152.39" y="1662.48" font-size="27" text-anchor="middle" fill="#111" textLength="127.0" lengthAdjust="spacingAndGlyphs" transform="rotate(-90 1152.39 1662.48)">log<tspan font-size="19" dy="7.6">10</tspan><tspan dy="-7.6" font-size="1">​</tspan>(TBB)</text>
</g>
<g id="panel-h">
<text transform="translate(1710.20 1412.40) scale(1.1 1)" x="0" y="0" font-size="37.5" font-weight="bold" fill="#000" stroke="#000" stroke-width="1.9" stroke-linejoin="round">h</text>
<text x="1905.96" y="1432.35" font-size="26.5" text-anchor="start" fill="#111" textLength="100.5" lengthAdjust="spacingAndGlyphs"><tspan font-style="italic">P</tspan> = 0.68</text>
<polyline fill="none" stroke="#2a2a2a" stroke-width="1.4" points="1887.88,1472.21 1887.88,1447.89 2024.27,1447.89 2024.27,1472.21"/>
<line x1="1802.77" y1="1453.80" x2="1802.77" y2="1864.59" stroke="#2a2a2a" stroke-width="1.6" />
<line x1="1787.32" y1="1453.80" x2="1802.77" y2="1453.80" stroke="#2a2a2a" stroke-width="1.6" />
<text x="1775.16" y="1461.20" font-size="23" text-anchor="end" fill="#111" textLength="13.9" lengthAdjust="spacingAndGlyphs">4</text>
<line x1="1787.32" y1="1556.34" x2="1802.77" y2="1556.34" stroke="#2a2a2a" stroke-width="1.6" />
<text x="1775.16" y="1563.74" font-size="23" text-anchor="end" fill="#111" textLength="13.9" lengthAdjust="spacingAndGlyphs">3</text>
<line x1="1787.32" y1="1659.20" x2="1802.77" y2="1659.20" stroke="#2a2a2a" stroke-width="1.6" />
<text x="1775.16" y="1666.60" font-size="23" text-anchor="end" fill="#111" textLength="13.9" lengthAdjust="spacingAndGlyphs">2</text>
<line x1="1787.32" y1="1762.06" x2="1802.77" y2="1762.06" stroke="#2a2a2a" stroke-width="1.6" />
<text x="1775.16" y="1769.46" font-size="23" text-anchor="end" fill="#111" textLength="9.7" lengthAdjust="spacingAndGlyphs">1</text>
<line x1="1787.32" y1="1864.59" x2="1802.77" y2="1864.59" stroke="#2a2a2a" stroke-width="1.6" />
<text x="1775.16" y="1871.99" font-size="23" text-anchor="end" fill="#111" textLength="13.9" lengthAdjust="spacingAndGlyphs">0</text>
<line x1="1787.32" y1="1864.59" x2="2113.00" y2="1864.59" stroke="#2a2a2a" stroke-width="1.6" />
<line x1="1890.18" y1="1864.59" x2="1890.18" y2="1880.04" stroke="#2a2a2a" stroke-width="1.6" />
<line x1="2022.62" y1="1864.59" x2="2022.62" y2="1880.04" stroke="#2a2a2a" stroke-width="1.6" />
<circle cx="1852.72" cy="1512.96" r="6.60" fill="#8fbdf8"/>
<circle cx="1871.45" cy="1506.38" r="6.60" fill="#8fbdf8"/>
<circle cx="1890.18" cy="1506.38" r="6.60" fill="#8fbdf8"/>
<circle cx="1928.31" cy="1506.38" r="6.60" fill="#8fbdf8"/>
<circle cx="1871.45" cy="1523.80" r="6.60" fill="#8fbdf8"/>
<circle cx="1890.18" cy="1519.86" r="6.60" fill="#8fbdf8"/>
<circle cx="1908.92" cy="1518.87" r="6.60" fill="#8fbdf8"/>
<circle cx="1890.18" cy="1558.64" r="6.60" fill="#8fbdf8"/>
<circle cx="1871.45" cy="1568.49" r="6.60" fill="#8fbdf8"/>
<circle cx="1890.18" cy="1572.11" r="6.60" fill="#8fbdf8"/>
<circle cx="1871.45" cy="1586.57" r="6.60" fill="#8fbdf8"/>
<circle cx="1908.92" cy="1584.27" r="6.60" fill="#8fbdf8"/>
<circle cx="1890.18" cy="1615.82" r="6.60" fill="#8fbdf8"/>
<circle cx="1890.18" cy="1645.40" r="6.60" fill="#8fbdf8"/>
<circle cx="1890.18" cy="1740.70" r="6.60" fill="#8fbdf8"/>
<circle cx="1890.18" cy="1762.39" r="6.60" fill="#8fbdf8"/>
<line x1="1890.18" y1="1496.52" x2="1890.18" y2="1657.55" stroke="#0000c0" stroke-width="4.0" />
<line x1="1868.17" y1="1496.52" x2="1912.20" y2="1496.52" stroke="#0000c0" stroke-width="4.4" />
<line x1="1868.17" y1="1657.55" x2="1912.20" y2="1657.55" stroke="#0000c0" stroke-width="4.4" />
<line x1="1846.48" y1="1576.71" x2="1934.55" y2="1576.71" stroke="#0000c0" stroke-width="4.4" />
<circle cx="2034.78" cy="1496.52" r="6.60" fill="#ff9b9b"/>
<circle cx="2009.81" cy="1502.77" r="6.60" fill="#ff9b9b"/>
<circle cx="2022.30" cy="1521.50" r="6.60" fill="#ff9b9b"/>
<circle cx="2034.78" cy="1533.99" r="6.60" fill="#ff9b9b"/>
<circle cx="2009.81" cy="1540.23" r="6.60" fill="#ff9b9b"/>
<circle cx="2009.81" cy="1583.61" r="6.60" fill="#ff9b9b"/>
<circle cx="2034.78" cy="1595.44" r="6.60" fill="#ff9b9b"/>
<circle cx="2009.81" cy="1616.48" r="6.60" fill="#ff9b9b"/>
<circle cx="2034.78" cy="1618.78" r="6.60" fill="#ff9b9b"/>
<circle cx="2022.30" cy="1657.88" r="6.60" fill="#ff9b9b"/>
<circle cx="2022.30" cy="1670.70" r="6.60" fill="#ff9b9b"/>
<circle cx="2022.30" cy="1731.83" r="6.60" fill="#ff9b9b"/>
<line x1="2022.62" y1="1515.26" x2="2022.62" y2="1662.81" stroke="#9c0000" stroke-width="4.0" />
<line x1="2000.28" y1="1515.26" x2="2044.64" y2="1515.26" stroke="#9c0000" stroke-width="4.4" />
<line x1="2000.28" y1="1662.81" x2="2044.64" y2="1662.81" stroke="#9c0000" stroke-width="4.4" />
<line x1="1978.26" y1="1589.20" x2="2066.33" y2="1589.20" stroke="#9c0000" stroke-width="4.4" />
<text x="1899.18" y="1905.09" font-size="27" text-anchor="end" fill="#111" textLength="181.0" lengthAdjust="spacingAndGlyphs" transform="rotate(-45 1899.18 1905.09)">Nonresponder</text>
<text x="2031.62" y="1905.09" font-size="27" text-anchor="end" fill="#111" textLength="137.0" lengthAdjust="spacingAndGlyphs" transform="rotate(-45 2031.62 1905.09)">Responder</text>
<text x="1732.44" y="1659.20" font-size="27" text-anchor="middle" fill="#111" textLength="225.0" lengthAdjust="spacingAndGlyphs" transform="rotate(-90 1732.44 1659.20)">Shannon diversity</text>
</g>
<g id="panel-i">
<text transform="translate(-0.20 2118.40) scale(1.1 1)" x="0" y="0" font-size="37.5" font-weight="bold" fill="#000" stroke="#000" stroke-width="1.9" stroke-linejoin="round">i</text>
<line x1="126.11" y1="2133.87" x2="126.11" y2="2545.61" stroke="#2a2a2a" stroke-width="1.6" />
<line x1="108.73" y1="2133.87" x2="126.11" y2="2133.87" stroke="#2a2a2a" stroke-width="1.6" />
<text x="93.53" y="2141.27" font-size="23" text-anchor="end" fill="#111" textLength="46.9" lengthAdjust="spacingAndGlyphs">–0.5</text>
<line x1="108.73" y1="2271.12" x2="126.11" y2="2271.12" stroke="#2a2a2a" stroke-width="1.6" />
<text x="93.53" y="2278.52" font-size="23" text-anchor="end" fill="#111" textLength="42.7" lengthAdjust="spacingAndGlyphs">–1.0</text>
<line x1="108.73" y1="2408.36" x2="126.11" y2="2408.36" stroke="#2a2a2a" stroke-width="1.6" />
<text x="93.53" y="2415.76" font-size="23" text-anchor="end" fill="#111" textLength="42.7" lengthAdjust="spacingAndGlyphs">–1.5</text>
<line x1="108.73" y1="2545.61" x2="126.11" y2="2545.61" stroke="#2a2a2a" stroke-width="1.6" />
<text x="93.53" y="2553.01" font-size="23" text-anchor="end" fill="#111" textLength="46.9" lengthAdjust="spacingAndGlyphs">–2.0</text>
<line x1="108.73" y1="2545.61" x2="537.20" y2="2545.61" stroke="#2a2a2a" stroke-width="1.6" />
<line x1="126.11" y1="2545.61" x2="126.11" y2="2563.48" stroke="#2a2a2a" stroke-width="1.6" />
<text x="126.11" y="2593.89" font-size="23" text-anchor="middle" fill="#111" textLength="13.9" lengthAdjust="spacingAndGlyphs">0</text>
<line x1="194.65" y1="2545.61" x2="194.65" y2="2563.48" stroke="#2a2a2a" stroke-width="1.6" />
<text x="194.65" y="2593.89" font-size="23" text-anchor="middle" fill="#111" textLength="34.0" lengthAdjust="spacingAndGlyphs">0.2</text>
<line x1="263.09" y1="2545.61" x2="263.09" y2="2563.48" stroke="#2a2a2a" stroke-width="1.6" />
<text x="263.09" y="2593.89" font-size="23" text-anchor="middle" fill="#111" textLength="34.0" lengthAdjust="spacingAndGlyphs">0.4</text>
<line x1="331.90" y1="2545.61" x2="331.90" y2="2563.48" stroke="#2a2a2a" stroke-width="1.6" />
<text x="331.90" y="2593.89" font-size="23" text-anchor="middle" fill="#111" textLength="34.0" lengthAdjust="spacingAndGlyphs">0.6</text>
<line x1="400.33" y1="2545.61" x2="400.33" y2="2563.48" stroke="#2a2a2a" stroke-width="1.6" />
<text x="400.33" y="2593.89" font-size="23" text-anchor="middle" fill="#111" textLength="34.0" lengthAdjust="spacingAndGlyphs">0.8</text>
<line x1="469.15" y1="2545.61" x2="469.15" y2="2563.48" stroke="#2a2a2a" stroke-width="1.6" />
<text x="469.15" y="2593.89" font-size="23" text-anchor="middle" fill="#111" textLength="29.8" lengthAdjust="spacingAndGlyphs">1.0</text>
<line x1="537.20" y1="2545.61" x2="537.20" y2="2563.48" stroke="#2a2a2a" stroke-width="1.6" />
<text x="537.20" y="2593.89" font-size="23" text-anchor="middle" fill="#111" textLength="29.8" lengthAdjust="spacingAndGlyphs">1.2</text>
<circle cx="147.51" cy="2209.91" r="8.70" fill="#9e9e9e"/>
<circle cx="390.45" cy="2222.83" r="8.70" fill="#9e9e9e"/>
<circle cx="388.55" cy="2247.17" r="8.70" fill="#9e9e9e"/>
<circle cx="487.78" cy="2292.03" r="8.70" fill="#9e9e9e"/>
<circle cx="174.88" cy="2311.80" r="8.70" fill="#9e9e9e"/>
<circle cx="159.30" cy="2357.80" r="8.70" fill="#9e9e9e"/>
<circle cx="323.54" cy="2348.30" r="8.70" fill="#9e9e9e"/>
<circle cx="342.93" cy="2352.10" r="8.70" fill="#9e9e9e"/>
<circle cx="150.55" cy="2390.12" r="8.70" fill="#9e9e9e"/>
<circle cx="224.31" cy="2399.24" r="8.70" fill="#9e9e9e"/>
<circle cx="161.20" cy="2434.98" r="8.70" fill="#9e9e9e"/>
<circle cx="207.58" cy="2434.98" r="8.70" fill="#9e9e9e"/>
<circle cx="149.03" cy="2442.58" r="8.70" fill="#9e9e9e"/>
<circle cx="161.20" cy="2449.80" r="8.70" fill="#9e9e9e"/>
<circle cx="174.88" cy="2463.49" r="8.70" fill="#9e9e9e"/>
<circle cx="228.87" cy="2458.55" r="8.70" fill="#9e9e9e"/>
<circle cx="354.33" cy="2496.19" r="8.70" fill="#9e9e9e"/>
<circle cx="421.62" cy="2525.08" r="8.70" fill="#9e9e9e"/>
<circle cx="128.50" cy="2545.61" r="8.70" fill="#9e9e9e"/>
<circle cx="134.97" cy="2545.61" r="8.70" fill="#9e9e9e"/>
<circle cx="141.43" cy="2545.61" r="8.70" fill="#9e9e9e"/>
<circle cx="157.40" cy="2545.61" r="8.70" fill="#9e9e9e"/>
<circle cx="179.07" cy="2545.61" r="8.70" fill="#9e9e9e"/>
<circle cx="216.71" cy="2545.61" r="8.70" fill="#9e9e9e"/>
<line x1="128.50" y1="2484.40" x2="487.78" y2="2307.24" stroke="#333" stroke-width="4.2" />
<text x="141.81" y="2152.88" font-size="26.5" text-anchor="start" fill="#111" textLength="100.5" lengthAdjust="spacingAndGlyphs"><tspan font-style="italic">R</tspan> = 0.54</text>
<text x="141.81" y="2186.72" font-size="26.5" text-anchor="start" fill="#111" textLength="120.5" lengthAdjust="spacingAndGlyphs"><tspan font-style="italic">P</tspan> = 0.003</text>
<text x="332.28" y="2640.28" font-size="27" text-anchor="middle" fill="#111" textLength="126.0" lengthAdjust="spacingAndGlyphs">log<tspan font-size="19" dy="7.6">10</tspan><tspan dy="-7.6" font-size="1">​</tspan>(TBB)</text>
<text x="23.57" y="2339.55" font-size="27" text-anchor="middle" fill="#111" textLength="373.0" lengthAdjust="spacingAndGlyphs" transform="rotate(-90 23.57 2339.55)">log<tspan font-size="19" dy="7.6">10</tspan><tspan dy="-7.6" font-size="1">​</tspan>(Relative <tspan font-style="italic">Fusobacterium</tspan>)</text>
</g>
<g id="panel-j">
<text transform="translate(690.30 2118.40) scale(1.1 1)" x="0" y="0" font-size="37.5" font-weight="bold" fill="#000" stroke="#000" stroke-width="1.9" stroke-linejoin="round">j</text>
<text x="1041.94" y="2132.66" font-size="26.5" text-anchor="middle" fill="#111" textLength="126.0" lengthAdjust="spacingAndGlyphs">Univariate</text>
<text x="1041.52" y="2167.19" font-size="26.5" text-anchor="middle" fill="#111" textLength="442.0" lengthAdjust="spacingAndGlyphs" font-style="italic">Response ~ (TBB or Fusobacterium)</text>
<line x1="784.05" y1="2197.03" x2="784.05" y2="2404.63" stroke="#2a2a2a" stroke-width="1.6" />
<line x1="784.05" y1="2404.63" x2="1299.41" y2="2404.63" stroke="#2a2a2a" stroke-width="1.6" />
<line x1="784.05" y1="2404.63" x2="784.05" y2="2417.41" stroke="#2a2a2a" stroke-width="1.6" />
<text x="784.05" y="2447.68" font-size="23" text-anchor="middle" fill="#111" textLength="46.9" lengthAdjust="spacingAndGlyphs">–0.6</text>
<line x1="912.78" y1="2404.63" x2="912.78" y2="2417.41" stroke="#2a2a2a" stroke-width="1.6" />
<text x="912.78" y="2447.68" font-size="23" text-anchor="middle" fill="#111" textLength="46.9" lengthAdjust="spacingAndGlyphs">–0.4</text>
<line x1="1041.52" y1="2404.63" x2="1041.52" y2="2417.41" stroke="#2a2a2a" stroke-width="1.6" />
<text x="1041.52" y="2447.68" font-size="23" text-anchor="middle" fill="#111" textLength="46.9" lengthAdjust="spacingAndGlyphs">–0.2</text>
<line x1="1170.25" y1="2404.63" x2="1170.25" y2="2417.41" stroke="#2a2a2a" stroke-width="1.6" />
<text x="1170.25" y="2447.68" font-size="23" text-anchor="middle" fill="#111" textLength="13.9" lengthAdjust="spacingAndGlyphs">0</text>
<line x1="1299.41" y1="2404.63" x2="1299.41" y2="2417.41" stroke="#2a2a2a" stroke-width="1.6" />
<text x="1299.41" y="2447.68" font-size="23" text-anchor="middle" fill="#111" textLength="34.0" lengthAdjust="spacingAndGlyphs">0.2</text>
<line x1="771.68" y1="2257.56" x2="784.05" y2="2257.56" stroke="#2a2a2a" stroke-width="1.6" />
<line x1="771.68" y1="2346.23" x2="784.05" y2="2346.23" stroke="#2a2a2a" stroke-width="1.6" />
<line x1="1170.25" y1="2197.03" x2="1170.25" y2="2404.63" stroke="#333" stroke-width="2.4" stroke-dasharray="12.9 6" stroke-dashoffset="6.4"/>
<line x1="912.36" y1="2257.56" x2="1125.07" y2="2257.56" stroke="#000" stroke-width="3.8" />
<line x1="912.36" y1="2247.16" x2="912.36" y2="2267.96" stroke="#000" stroke-width="4.5" />
<line x1="1125.07" y1="2247.16" x2="1125.07" y2="2267.96" stroke="#000" stroke-width="4.5" />
<rect x="1007.82" y="2247.31" width="20.50" height="20.50" fill="#fff" stroke="#000" stroke-width="6.0"/>
<line x1="994.20" y1="2346.23" x2="1230.78" y2="2346.23" stroke="#000" stroke-width="3.8" />
<line x1="994.20" y1="2335.83" x2="994.20" y2="2356.63" stroke="#000" stroke-width="4.5" />
<line x1="1230.78" y1="2335.83" x2="1230.78" y2="2356.63" stroke="#000" stroke-width="4.5" />
<rect x="1102.03" y="2335.98" width="20.50" height="20.50" fill="#fff" stroke="#000" stroke-width="6.0"/>
<text x="757.19" y="2265.66" font-size="26" text-anchor="end" fill="#111" textLength="47.0" lengthAdjust="spacingAndGlyphs">TBB</text>
<text x="755.91" y="2354.75" font-size="26" text-anchor="end" fill="#111" textLength="65.0" lengthAdjust="spacingAndGlyphs" font-style="italic">Fuso.</text>
<text x="1175.79" y="2267.94" font-size="26.5" text-anchor="start" fill="#111" textLength="161.0" lengthAdjust="spacingAndGlyphs"><tspan font-style="italic">P</tspan> = 9.6 × 10<tspan font-size="18" dy="-11.2">−3</tspan><tspan dy="11.2" font-size="1">​</tspan></text>
<text x="842.02" y="2355.65" font-size="26.5" text-anchor="start" fill="#111" textLength="100.0" lengthAdjust="spacingAndGlyphs"><tspan font-style="italic">P</tspan> = 0.35</text>
<text x="1041.09" y="2492.01" font-size="27" text-anchor="middle" fill="#111" textLength="281.0" lengthAdjust="spacingAndGlyphs">Regression coefficient</text>
<line x1="798.74" y1="2524.84" x2="1290.69" y2="2524.84" stroke="#3f4d63" stroke-width="4.7" />
<path d="M788.74,2524.84 L805.54,2517.94 L802.74,2524.84 L805.54,2531.74 Z" fill="#3f4d63"/>
<path d="M1300.69,2524.84 L1283.89,2517.94 L1286.69,2524.84 L1283.89,2531.74 Z" fill="#3f4d63"/>
<text x="898.71" y="2562.35" font-size="27" text-anchor="middle" fill="#0000ff" textLength="116.0" lengthAdjust="spacingAndGlyphs">Higher in</text>
<text x="898.71" y="2594.32" font-size="27" text-anchor="middle" fill="#0000ff" textLength="191.0" lengthAdjust="spacingAndGlyphs">nonresponders</text>
<text x="1218.85" y="2562.35" font-size="27" text-anchor="middle" fill="#ff0000" textLength="116.0" lengthAdjust="spacingAndGlyphs">Higher in</text>
<text x="1218.85" y="2594.32" font-size="27" text-anchor="middle" fill="#ff0000" textLength="143.0" lengthAdjust="spacingAndGlyphs">responders</text>
</g>
<g id="panel-k">
<text transform="translate(1468.43 2118.40) scale(1.1 1)" x="0" y="0" font-size="37.5" font-weight="bold" fill="#000" stroke="#000" stroke-width="1.9" stroke-linejoin="round">k</text>
<text x="1822.71" y="2119.81" font-size="26.5" text-anchor="middle" fill="#111" textLength="148.0" lengthAdjust="spacingAndGlyphs">Multivariate</text>
<text x="1822.28" y="2154.29" font-size="26.5" text-anchor="middle" fill="#111" textLength="411.0" lengthAdjust="spacingAndGlyphs" font-style="italic">Response ~ TBB + Fusobacterium</text>
<line x1="1565.16" y1="2184.09" x2="1565.16" y2="2391.40" stroke="#2a2a2a" stroke-width="1.6" />
<line x1="1565.16" y1="2391.40" x2="2080.68" y2="2391.40" stroke="#2a2a2a" stroke-width="1.6" />
<line x1="1565.16" y1="2391.40" x2="1565.16" y2="2404.17" stroke="#2a2a2a" stroke-width="1.6" />
<text x="1565.16" y="2434.39" font-size="23" text-anchor="middle" fill="#111" textLength="46.9" lengthAdjust="spacingAndGlyphs">–0.6</text>
<line x1="1668.18" y1="2391.40" x2="1668.18" y2="2404.17" stroke="#2a2a2a" stroke-width="1.6" />
<text x="1668.18" y="2434.39" font-size="23" text-anchor="middle" fill="#111" textLength="46.9" lengthAdjust="spacingAndGlyphs">–0.4</text>
<line x1="1771.20" y1="2391.40" x2="1771.20" y2="2404.17" stroke="#2a2a2a" stroke-width="1.6" />
<text x="1771.20" y="2434.39" font-size="23" text-anchor="middle" fill="#111" textLength="46.9" lengthAdjust="spacingAndGlyphs">–0.2</text>
<line x1="1874.22" y1="2391.40" x2="1874.22" y2="2404.17" stroke="#2a2a2a" stroke-width="1.6" />
<text x="1874.22" y="2434.39" font-size="23" text-anchor="middle" fill="#111" textLength="13.9" lengthAdjust="spacingAndGlyphs">0</text>
<line x1="1977.23" y1="2391.40" x2="1977.23" y2="2404.17" stroke="#2a2a2a" stroke-width="1.6" />
<text x="1977.23" y="2434.39" font-size="23" text-anchor="middle" fill="#111" textLength="34.0" lengthAdjust="spacingAndGlyphs">0.2</text>
<line x1="2080.68" y1="2391.40" x2="2080.68" y2="2404.17" stroke="#2a2a2a" stroke-width="1.6" />
<text x="2080.68" y="2434.39" font-size="23" text-anchor="middle" fill="#111" textLength="34.0" lengthAdjust="spacingAndGlyphs">0.4</text>
<line x1="1552.82" y1="2244.53" x2="1565.16" y2="2244.53" stroke="#2a2a2a" stroke-width="1.6" />
<line x1="1552.82" y1="2333.08" x2="1565.16" y2="2333.08" stroke="#2a2a2a" stroke-width="1.6" />
<line x1="1874.22" y1="2184.09" x2="1874.22" y2="2391.40" stroke="#333" stroke-width="2.4" stroke-dasharray="12.9 6" stroke-dashoffset="6.4"/>
<line x1="1649.45" y1="2244.53" x2="1842.29" y2="2244.53" stroke="#000" stroke-width="3.8" />
<line x1="1649.45" y1="2234.13" x2="1649.45" y2="2254.93" stroke="#000" stroke-width="4.5" />
<line x1="1842.29" y1="2234.13" x2="1842.29" y2="2254.93" stroke="#000" stroke-width="4.5" />
<rect x="1735.83" y="2234.28" width="20.50" height="20.50" fill="#fff" stroke="#000" stroke-width="6.0"/>
<line x1="1791.63" y1="2333.08" x2="1984.47" y2="2333.08" stroke="#000" stroke-width="3.8" />
<line x1="1791.63" y1="2322.68" x2="1791.63" y2="2343.48" stroke="#000" stroke-width="4.5" />
<line x1="1984.47" y1="2322.68" x2="1984.47" y2="2343.48" stroke="#000" stroke-width="4.5" />
<rect x="1878.01" y="2322.83" width="20.50" height="20.50" fill="#fff" stroke="#000" stroke-width="6.0"/>
<text x="1537.92" y="2252.62" font-size="26" text-anchor="end" fill="#111" textLength="47.0" lengthAdjust="spacingAndGlyphs">TBB</text>
<text x="1536.64" y="2341.59" font-size="26" text-anchor="end" fill="#111" textLength="65.0" lengthAdjust="spacingAndGlyphs" font-style="italic">Fuso.</text>
<text x="1892.10" y="2253.95" font-size="26.5" text-anchor="start" fill="#111" textLength="111.5" lengthAdjust="spacingAndGlyphs"><tspan font-style="italic">P</tspan> = 0.015</text>
<text x="2018.10" y="2343.34" font-size="26.5" text-anchor="start" fill="#111" textLength="96.0" lengthAdjust="spacingAndGlyphs"><tspan font-style="italic">P</tspan> = 0.77</text>
<text x="1822.28" y="2477.39" font-size="27" text-anchor="middle" fill="#111" textLength="281.0" lengthAdjust="spacingAndGlyphs">Regression coefficient</text>
<line x1="1579.84" y1="2511.45" x2="2071.96" y2="2511.45" stroke="#3f4d63" stroke-width="4.7" />
<path d="M1569.84,2511.45 L1586.64,2504.55 L1583.84,2511.45 L1586.64,2518.35 Z" fill="#3f4d63"/>
<path d="M2081.96,2511.45 L2065.16,2504.55 L2067.96,2511.45 L2065.16,2518.35 Z" fill="#3f4d63"/>
<text x="1677.97" y="2547.63" font-size="27" text-anchor="middle" fill="#0000ff" textLength="116.0" lengthAdjust="spacingAndGlyphs">Higher in</text>
<text x="1677.97" y="2579.56" font-size="27" text-anchor="middle" fill="#0000ff" textLength="191.0" lengthAdjust="spacingAndGlyphs">nonresponders</text>
<text x="2004.48" y="2547.63" font-size="27" text-anchor="middle" fill="#ff0000" textLength="116.0" lengthAdjust="spacingAndGlyphs">Higher in</text>
<text x="2004.48" y="2579.56" font-size="27" text-anchor="middle" fill="#ff0000" textLength="143.0" lengthAdjust="spacingAndGlyphs">responders</text>
</g>
</g>
</svg>
</body>
</html>
